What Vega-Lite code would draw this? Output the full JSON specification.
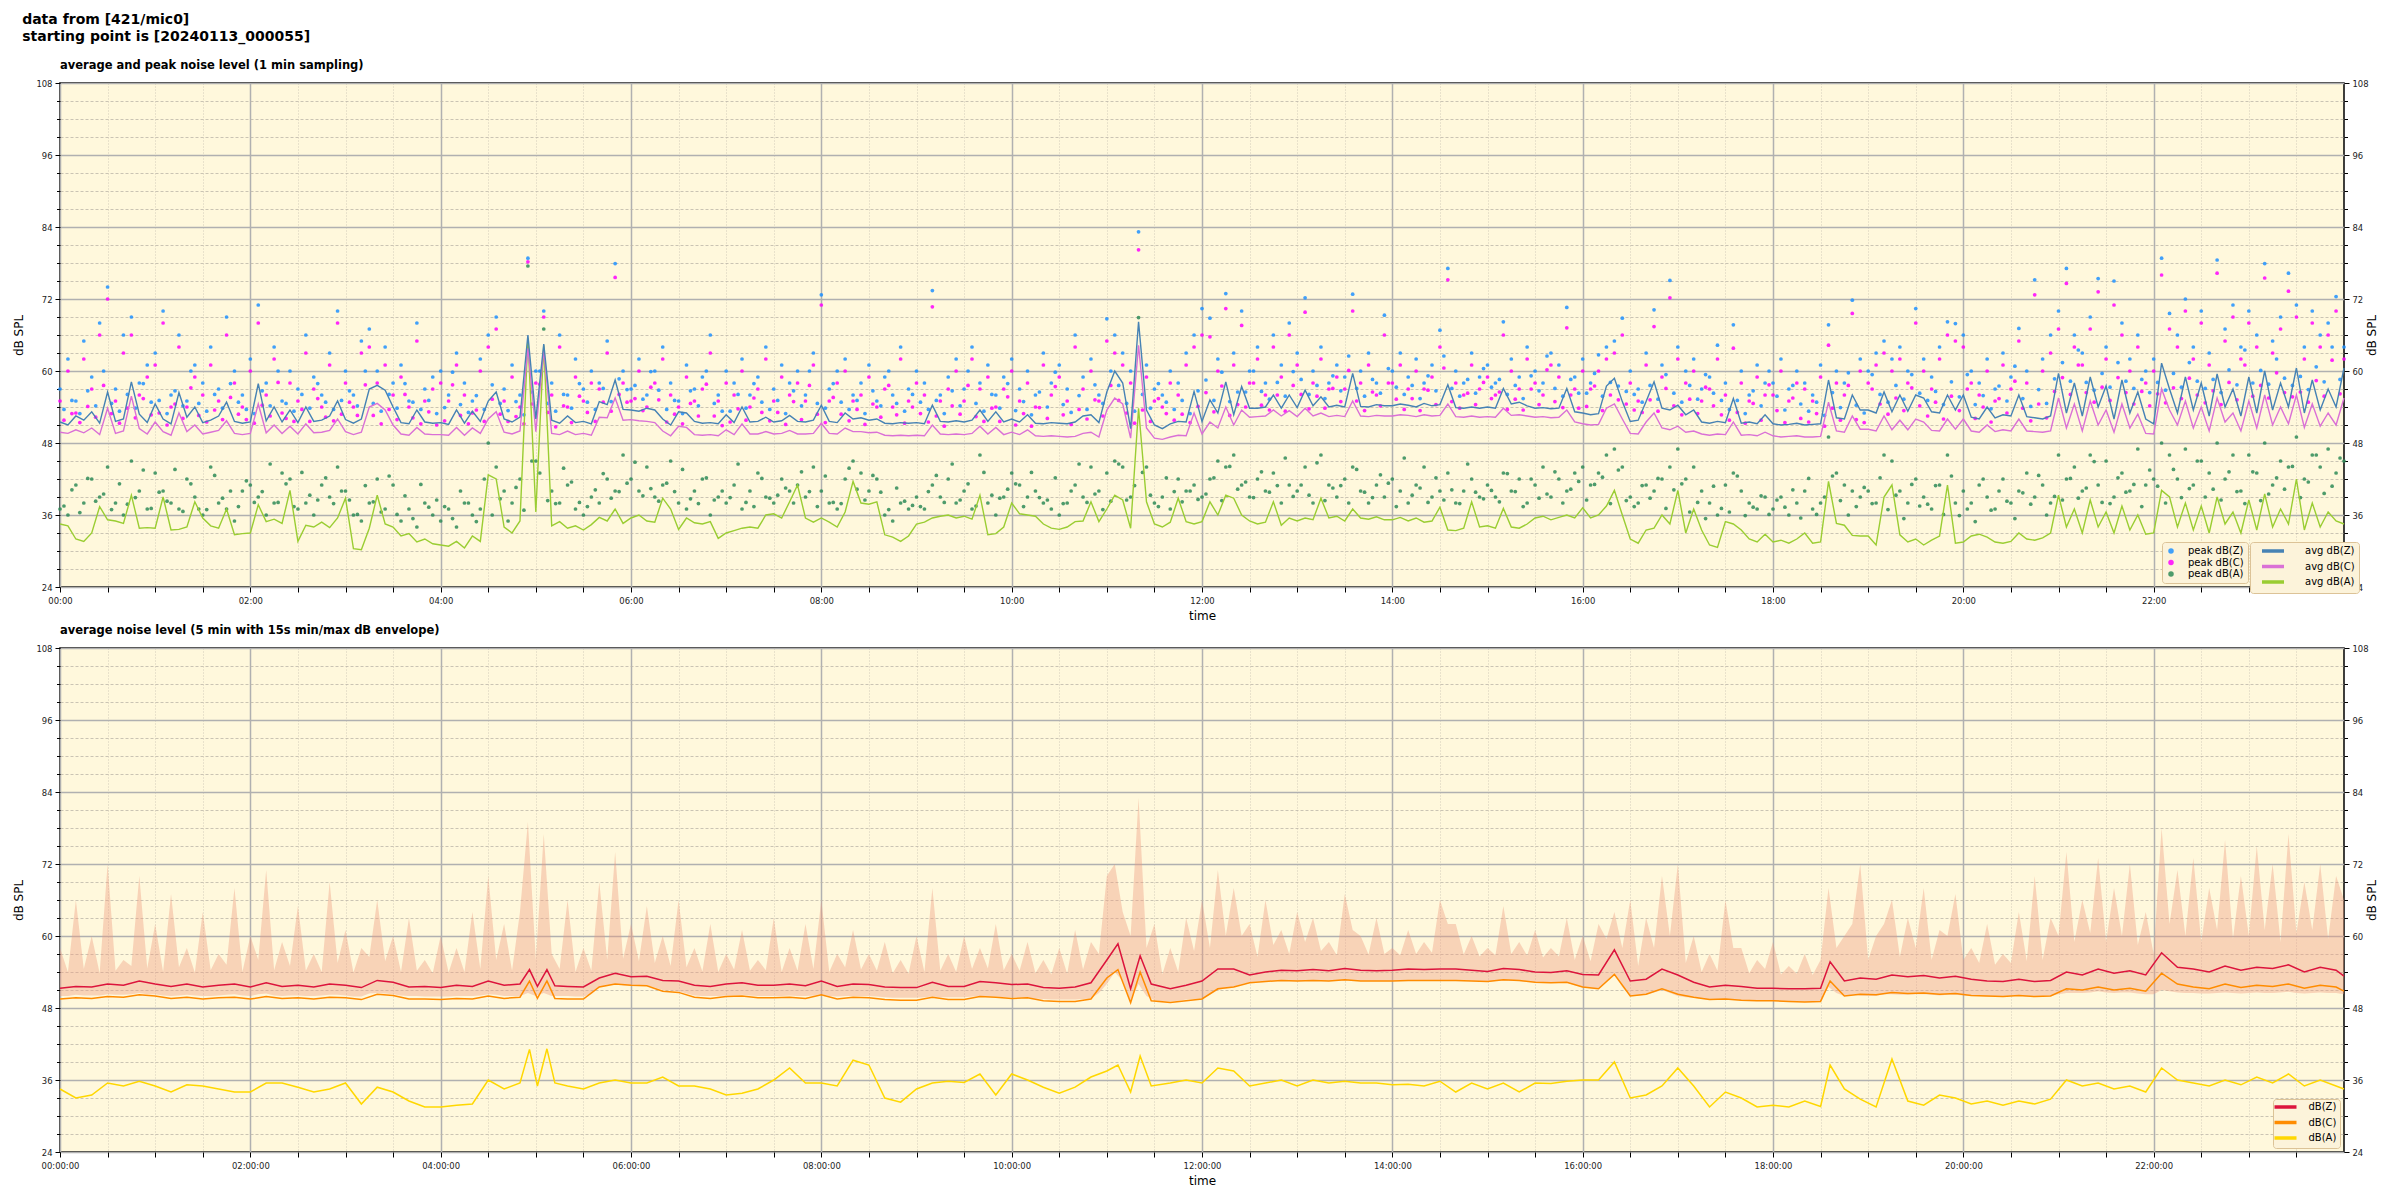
{
"$schema":"https://vega.github.io/schema/vega-lite/v6.json",
"background":"white",
"padding":{"left":12,"top":12,"right":0,"bottom":0},
"title":{"text":["data from [421/mic0]","starting point is [20240113_000055]"],"anchor":"start","frame":"bounds","font":"DejaVu Sans","fontSize":14,"fontWeight":"bold","lineHeight":17,"offset":15,"dx":10},
"datasets":{
"top":[
{"t":0,"aZ":51.5,"aC":49.8,"aA":34.5,"pZ":57,"pC":55,"pA":37},
{"t":5,"aZ":51.0,"aC":49.6,"aA":34.2,"pZ":62,"pC":60,"pA":36},
{"t":10,"aZ":52.5,"aC":50.2,"aA":32.0,"pZ":55,"pC":53,"pA":41},
{"t":15,"aZ":51.8,"aC":49.7,"aA":31.6,"pZ":65,"pC":62,"pA":38},
{"t":20,"aZ":53.2,"aC":50.5,"aA":33.0,"pZ":59,"pC":57,"pA":42},
{"t":25,"aZ":51.3,"aC":49.4,"aA":37.4,"pZ":68,"pC":66,"pA":39},
{"t":30,"aZ":56.5,"aC":53.8,"aA":35.2,"pZ":74,"pC":72,"pA":44},
{"t":35,"aZ":51.6,"aC":49.6,"aA":35.0,"pZ":57,"pC":55,"pA":38},
{"t":40,"aZ":52.0,"aC":50.0,"aA":34.6,"pZ":66,"pC":63,"pA":36},
{"t":45,"aZ":58.2,"aC":55.8,"aA":39.3,"pZ":69,"pC":66,"pA":45},
{"t":50,"aZ":52.8,"aC":50.4,"aA":33.8,"pZ":58,"pC":56,"pA":40},
{"t":55,"aZ":51.4,"aC":49.5,"aA":33.9,"pZ":61,"pC":59,"pA":37},
{"t":60,"aZ":54.5,"aC":51.5,"aA":33.8,"pZ":63,"pC":61,"pA":43},
{"t":65,"aZ":52.0,"aC":49.9,"aA":39.0,"pZ":70,"pC":68,"pA":40},
{"t":70,"aZ":51.2,"aC":49.3,"aA":33.5,"pZ":56,"pC":54,"pA":38},
{"t":75,"aZ":56.4,"aC":53.0,"aA":33.6,"pZ":66,"pC":64,"pA":37},
{"t":80,"aZ":52.3,"aC":49.9,"aA":34.0,"pZ":55,"pC":54,"pA":42},
{"t":85,"aZ":54.0,"aC":51.0,"aA":38.2,"pZ":61,"pC":59,"pA":39},
{"t":90,"aZ":51.4,"aC":49.5,"aA":35.5,"pZ":58,"pC":56,"pA":36},
{"t":95,"aZ":51.8,"aC":49.8,"aA":34.2,"pZ":64,"pC":61,"pA":44},
{"t":100,"aZ":52.5,"aC":50.1,"aA":33.8,"pZ":57,"pC":55,"pA":38},
{"t":105,"aZ":54.8,"aC":51.7,"aA":37.0,"pZ":69,"pC":66,"pA":37},
{"t":110,"aZ":51.6,"aC":49.6,"aA":32.7,"pZ":60,"pC":58,"pA":35},
{"t":115,"aZ":51.3,"aC":49.4,"aA":32.9,"pZ":56,"pC":54,"pA":40},
{"t":120,"aZ":51.5,"aC":49.6,"aA":33.0,"pZ":62,"pC":60,"pA":41},
{"t":125,"aZ":57.9,"aC":54.5,"aA":37.7,"pZ":71,"pC":68,"pA":39},
{"t":130,"aZ":51.7,"aC":49.7,"aA":34.9,"pZ":58,"pC":56,"pA":36},
{"t":135,"aZ":54.0,"aC":51.0,"aA":35.3,"pZ":64,"pC":62,"pA":38},
{"t":140,"aZ":51.5,"aC":49.6,"aA":34.6,"pZ":55,"pC":53,"pA":43},
{"t":145,"aZ":53.5,"aC":50.8,"aA":40.1,"pZ":60,"pC":58,"pA":42},
{"t":150,"aZ":51.4,"aC":49.5,"aA":31.6,"pZ":57,"pC":55,"pA":37},
{"t":155,"aZ":54.0,"aC":51.2,"aA":34.3,"pZ":66,"pC":63,"pA":38},
{"t":160,"aZ":51.6,"aC":49.7,"aA":34.0,"pZ":59,"pC":57,"pA":36},
{"t":165,"aZ":51.8,"aC":49.8,"aA":34.8,"pZ":56,"pC":54,"pA":41},
{"t":170,"aZ":52.5,"aC":50.1,"aA":33.9,"pZ":63,"pC":61,"pA":39},
{"t":175,"aZ":55.0,"aC":52.0,"aA":35.5,"pZ":70,"pC":68,"pA":44},
{"t":180,"aZ":51.9,"aC":49.9,"aA":38.8,"pZ":60,"pC":58,"pA":40},
{"t":185,"aZ":51.3,"aC":49.4,"aA":30.4,"pZ":56,"pC":54,"pA":36},
{"t":190,"aZ":52.0,"aC":49.8,"aA":30.2,"pZ":65,"pC":63,"pA":35},
{"t":195,"aZ":57.0,"aC":54.0,"aA":33.8,"pZ":67,"pC":64,"pA":38},
{"t":200,"aZ":57.6,"aC":54.6,"aA":39.3,"pZ":60,"pC":58,"pA":42},
{"t":205,"aZ":56.8,"aC":53.5,"aA":34.5,"pZ":64,"pC":61,"pA":37},
{"t":210,"aZ":54.0,"aC":51.0,"aA":34.0,"pZ":58,"pC":56,"pA":41},
{"t":215,"aZ":51.4,"aC":49.5,"aA":32.5,"pZ":61,"pC":59,"pA":35},
{"t":220,"aZ":51.2,"aC":49.3,"aA":32.9,"pZ":55,"pC":54,"pA":37},
{"t":225,"aZ":53.5,"aC":50.6,"aA":31.5,"pZ":68,"pC":65,"pA":34},
{"t":230,"aZ":51.5,"aC":49.5,"aA":32.0,"pZ":57,"pC":55,"pA":38},
{"t":235,"aZ":51.3,"aC":49.4,"aA":31.2,"pZ":59,"pC":57,"pA":36},
{"t":240,"aZ":51.4,"aC":49.4,"aA":31.0,"pZ":60,"pC":58,"pA":35},
{"t":245,"aZ":51.1,"aC":49.3,"aA":30.8,"pZ":56,"pC":55,"pA":37},
{"t":250,"aZ":53.5,"aC":50.6,"aA":31.6,"pZ":63,"pC":61,"pA":34},
{"t":255,"aZ":51.3,"aC":49.3,"aA":30.5,"pZ":58,"pC":56,"pA":38},
{"t":260,"aZ":53.3,"aC":50.5,"aA":32.5,"pZ":55,"pC":53,"pA":36},
{"t":265,"aZ":51.6,"aC":49.6,"aA":31.6,"pZ":62,"pC":60,"pA":37},
{"t":270,"aZ":55.0,"aC":52.0,"aA":42.7,"pZ":66,"pC":64,"pA":48},
{"t":275,"aZ":56.5,"aC":53.2,"aA":42.0,"pZ":69,"pC":67,"pA":44},
{"t":280,"aZ":52.0,"aC":49.8,"aA":34.0,"pZ":57,"pC":55,"pA":40},
{"t":285,"aZ":51.5,"aC":49.5,"aA":33.0,"pZ":61,"pC":59,"pA":38},
{"t":290,"aZ":52.3,"aC":50.0,"aA":35.0,"pZ":56,"pC":54,"pA":42},
{"t":295,"aZ":66.0,"aC":63.8,"aA":65.5,"pZ":78.8,"pC":78.2,"pA":77.5},
{"t":300,"aZ":52.0,"aC":49.9,"aA":36.5,"pZ":60,"pC":58,"pA":45},
{"t":305,"aZ":64.5,"aC":63.5,"aA":64.3,"pZ":70,"pC":69,"pA":67},
{"t":310,"aZ":51.8,"aC":49.6,"aA":34.2,"pZ":58,"pC":56,"pA":40},
{"t":315,"aZ":51.3,"aC":49.4,"aA":34.9,"pZ":66,"pC":64,"pA":38},
{"t":320,"aZ":52.5,"aC":50.0,"aA":33.8,"pZ":56,"pC":54,"pA":41},
{"t":325,"aZ":51.4,"aC":49.4,"aA":34.2,"pZ":62,"pC":59,"pA":37},
{"t":330,"aZ":51.6,"aC":49.6,"aA":33.5,"pZ":57,"pC":55,"pA":36},
{"t":335,"aZ":51.2,"aC":49.3,"aA":34.4,"pZ":60,"pC":58,"pA":39},
{"t":340,"aZ":54.9,"aC":52.3,"aA":35.6,"pZ":58,"pC":57,"pA":38},
{"t":345,"aZ":54.4,"aC":52.2,"aA":35.0,"pZ":65,"pC":63,"pA":42},
{"t":350,"aZ":58.5,"aC":55.5,"aA":37.0,"pZ":77.9,"pC":75.6,"pA":40},
{"t":355,"aZ":53.6,"aC":51.8,"aA":34.6,"pZ":60,"pC":58,"pA":46},
{"t":360,"aZ":53.5,"aC":51.9,"aA":35.5,"pZ":57,"pC":55,"pA":42},
{"t":365,"aZ":53.3,"aC":51.7,"aA":36.0,"pZ":62,"pC":60,"pA":40},
{"t":370,"aZ":53.8,"aC":51.6,"aA":35.0,"pZ":56,"pC":54,"pA":44},
{"t":375,"aZ":53.5,"aC":51.4,"aA":34.8,"pZ":60,"pC":58,"pA":39},
{"t":380,"aZ":52.0,"aC":50.0,"aA":38.8,"pZ":64,"pC":62,"pA":41},
{"t":385,"aZ":51.0,"aC":49.2,"aA":37.0,"pZ":58,"pC":56,"pA":45},
{"t":390,"aZ":53.2,"aC":50.8,"aA":33.6,"pZ":55,"pC":54,"pA":38},
{"t":395,"aZ":53.0,"aC":50.6,"aA":35.5,"pZ":61,"pC":59,"pA":37},
{"t":400,"aZ":51.6,"aC":49.4,"aA":34.7,"pZ":57,"pC":55,"pA":40},
{"t":405,"aZ":51.3,"aC":49.3,"aA":34.5,"pZ":59,"pC":57,"pA":42},
{"t":410,"aZ":51.4,"aC":49.4,"aA":34.9,"pZ":66,"pC":63,"pA":36},
{"t":415,"aZ":51.2,"aC":49.2,"aA":32.1,"pZ":56,"pC":55,"pA":39},
{"t":420,"aZ":52.7,"aC":50.2,"aA":33.0,"pZ":60,"pC":58,"pA":38},
{"t":425,"aZ":51.4,"aC":49.4,"aA":33.4,"pZ":58,"pC":56,"pA":41},
{"t":430,"aZ":54.0,"aC":51.2,"aA":33.8,"pZ":62,"pC":60,"pA":37},
{"t":435,"aZ":51.5,"aC":49.5,"aA":34.0,"pZ":56,"pC":54,"pA":40},
{"t":440,"aZ":51.6,"aC":49.5,"aA":33.8,"pZ":59,"pC":57,"pA":43},
{"t":445,"aZ":52.3,"aC":49.9,"aA":36.0,"pZ":64,"pC":62,"pA":39},
{"t":450,"aZ":51.5,"aC":49.5,"aA":36.2,"pZ":57,"pC":55,"pA":38},
{"t":455,"aZ":51.7,"aC":49.6,"aA":35.5,"pZ":61,"pC":59,"pA":42},
{"t":460,"aZ":52.6,"aC":50.1,"aA":38.2,"pZ":58,"pC":56,"pA":40},
{"t":465,"aZ":51.6,"aC":49.5,"aA":41.0,"pZ":60,"pC":58,"pA":41},
{"t":470,"aZ":51.5,"aC":49.5,"aA":35.5,"pZ":56,"pC":55,"pA":39},
{"t":475,"aZ":51.8,"aC":49.6,"aA":34.8,"pZ":63,"pC":61,"pA":44},
{"t":480,"aZ":54.3,"aC":51.3,"aA":35.5,"pZ":72.7,"pC":71,"pA":40},
{"t":485,"aZ":51.6,"aC":49.6,"aA":34.8,"pZ":57,"pC":55,"pA":38},
{"t":490,"aZ":51.4,"aC":49.5,"aA":34.0,"pZ":60,"pC":58,"pA":37},
{"t":495,"aZ":53.0,"aC":50.5,"aA":36.5,"pZ":62,"pC":60,"pA":42},
{"t":500,"aZ":52.0,"aC":49.9,"aA":41.6,"pZ":56,"pC":55,"pA":45},
{"t":505,"aZ":52.2,"aC":49.9,"aA":38.0,"pZ":58,"pC":56,"pA":43},
{"t":510,"aZ":51.8,"aC":49.7,"aA":37.8,"pZ":61,"pC":59,"pA":40},
{"t":515,"aZ":52.0,"aC":49.8,"aA":38.2,"pZ":55,"pC":54,"pA":42},
{"t":520,"aZ":51.3,"aC":49.3,"aA":32.7,"pZ":59,"pC":57,"pA":36},
{"t":525,"aZ":51.2,"aC":49.2,"aA":32.3,"pZ":56,"pC":54,"pA":35},
{"t":530,"aZ":51.4,"aC":49.3,"aA":31.6,"pZ":64,"pC":62,"pA":38},
{"t":535,"aZ":51.3,"aC":49.2,"aA":32.5,"pZ":57,"pC":55,"pA":37},
{"t":540,"aZ":51.4,"aC":49.3,"aA":34.5,"pZ":60,"pC":58,"pA":39},
{"t":545,"aZ":51.2,"aC":49.2,"aA":34.8,"pZ":58,"pC":56,"pA":37},
{"t":550,"aZ":54.3,"aC":51.0,"aA":35.5,"pZ":73.4,"pC":70.7,"pA":41},
{"t":555,"aZ":51.6,"aC":49.5,"aA":35.8,"pZ":56,"pC":55,"pA":39},
{"t":560,"aZ":51.5,"aC":49.4,"aA":36.0,"pZ":59,"pC":57,"pA":42},
{"t":565,"aZ":51.7,"aC":49.5,"aA":35.5,"pZ":62,"pC":60,"pA":38},
{"t":570,"aZ":51.5,"aC":49.4,"aA":35.8,"pZ":57,"pC":55,"pA":40},
{"t":575,"aZ":51.8,"aC":49.6,"aA":35.3,"pZ":64,"pC":62,"pA":37},
{"t":580,"aZ":53.5,"aC":50.8,"aA":39.3,"pZ":58,"pC":57,"pA":46},
{"t":585,"aZ":51.6,"aC":49.5,"aA":32.7,"pZ":61,"pC":59,"pA":38},
{"t":590,"aZ":53.2,"aC":50.6,"aA":32.9,"pZ":56,"pC":54,"pA":36},
{"t":595,"aZ":51.5,"aC":49.4,"aA":34.0,"pZ":59,"pC":57,"pA":39},
{"t":600,"aZ":52.0,"aC":49.8,"aA":38.0,"pZ":62,"pC":60,"pA":43},
{"t":605,"aZ":51.5,"aC":49.4,"aA":36.2,"pZ":57,"pC":55,"pA":41},
{"t":610,"aZ":52.7,"aC":50.2,"aA":36.0,"pZ":60,"pC":58,"pA":39},
{"t":615,"aZ":51.3,"aC":49.2,"aA":35.8,"pZ":56,"pC":54,"pA":40},
{"t":620,"aZ":51.2,"aC":49.1,"aA":34.5,"pZ":63,"pC":61,"pA":38},
{"t":625,"aZ":51.4,"aC":49.2,"aA":33.8,"pZ":58,"pC":56,"pA":37},
{"t":630,"aZ":51.3,"aC":49.1,"aA":33.6,"pZ":61,"pC":59,"pA":36},
{"t":635,"aZ":51.2,"aC":49.0,"aA":34.0,"pZ":57,"pC":55,"pA":38},
{"t":640,"aZ":51.5,"aC":49.1,"aA":34.9,"pZ":66,"pC":64,"pA":41},
{"t":645,"aZ":52.5,"aC":49.6,"aA":35.0,"pZ":59,"pC":57,"pA":39},
{"t":650,"aZ":52.7,"aC":49.8,"aA":38.2,"pZ":62,"pC":60,"pA":44},
{"t":655,"aZ":51.4,"aC":49.0,"aA":34.9,"pZ":56,"pC":55,"pA":40},
{"t":660,"aZ":56.5,"aC":53.5,"aA":37.0,"pZ":68.7,"pC":65,"pA":43},
{"t":665,"aZ":60.0,"aC":55.5,"aA":39.3,"pZ":66,"pC":63,"pA":45},
{"t":670,"aZ":58.0,"aC":54.5,"aA":38.5,"pZ":63,"pC":61,"pA":44},
{"t":675,"aZ":50.4,"aC":48.8,"aA":33.8,"pZ":60,"pC":58,"pA":39},
{"t":680,"aZ":68.2,"aC":64.3,"aA":53.8,"pZ":83.2,"pC":80.2,"pA":68.9},
{"t":685,"aZ":53.5,"aC":50.5,"aA":38.2,"pZ":61,"pC":59,"pA":44},
{"t":690,"aZ":51.0,"aC":48.8,"aA":34.5,"pZ":57,"pC":55,"pA":38},
{"t":695,"aZ":50.4,"aC":48.6,"aA":34.0,"pZ":56,"pC":54,"pA":39},
{"t":700,"aZ":51.2,"aC":49.0,"aA":34.8,"pZ":60,"pC":58,"pA":37},
{"t":705,"aZ":51.6,"aC":49.3,"aA":38.8,"pZ":58,"pC":56,"pA":42},
{"t":710,"aZ":51.5,"aC":49.2,"aA":34.9,"pZ":63,"pC":61,"pA":40},
{"t":715,"aZ":56.6,"aC":53.0,"aA":34.5,"pZ":66,"pC":64,"pA":41},
{"t":720,"aZ":51.6,"aC":49.5,"aA":34.9,"pZ":70.4,"pC":66,"pA":39},
{"t":725,"aZ":55.2,"aC":51.5,"aA":38.2,"pZ":68.8,"pC":65.7,"pA":42},
{"t":730,"aZ":53.0,"aC":50.5,"aA":36.0,"pZ":62,"pC":60,"pA":45},
{"t":735,"aZ":58.2,"aC":54.0,"aA":39.3,"pZ":72.9,"pC":70.4,"pA":44},
{"t":740,"aZ":52.7,"aC":51.0,"aA":38.8,"pZ":63,"pC":61,"pA":46},
{"t":745,"aZ":57.4,"aC":53.5,"aA":36.0,"pZ":70,"pC":67.6,"pA":41},
{"t":750,"aZ":53.8,"aC":52.3,"aA":35.0,"pZ":60,"pC":58,"pA":39},
{"t":755,"aZ":53.8,"aC":52.4,"aA":34.5,"pZ":64,"pC":62,"pA":42},
{"t":760,"aZ":54.0,"aC":52.5,"aA":34.8,"pZ":58,"pC":56,"pA":40},
{"t":765,"aZ":56.0,"aC":53.5,"aA":38.2,"pZ":66,"pC":64,"pA":43},
{"t":770,"aZ":53.8,"aC":52.5,"aA":34.3,"pZ":61,"pC":59,"pA":38},
{"t":775,"aZ":56.0,"aC":53.4,"aA":35.5,"pZ":68,"pC":66,"pA":41},
{"t":780,"aZ":53.9,"aC":52.4,"aA":35.0,"pZ":63,"pC":61,"pA":40},
{"t":785,"aZ":56.8,"aC":53.8,"aA":35.5,"pZ":72.2,"pC":69.8,"pA":44},
{"t":790,"aZ":54.2,"aC":52.5,"aA":35.2,"pZ":60,"pC":58,"pA":38},
{"t":795,"aZ":55.7,"aC":53.0,"aA":38.8,"pZ":64,"pC":62,"pA":46},
{"t":800,"aZ":54.0,"aC":52.4,"aA":35.5,"pZ":58,"pC":57,"pA":41},
{"t":805,"aZ":54.3,"aC":52.6,"aA":35.8,"pZ":61,"pC":59,"pA":39},
{"t":810,"aZ":54.0,"aC":52.4,"aA":35.0,"pZ":59,"pC":57,"pA":42},
{"t":815,"aZ":59.6,"aC":55.0,"aA":37.0,"pZ":72.8,"pC":70,"pA":44},
{"t":820,"aZ":54.1,"aC":52.5,"aA":35.5,"pZ":60,"pC":58,"pA":40},
{"t":825,"aZ":54.0,"aC":52.4,"aA":35.3,"pZ":63,"pC":61,"pA":38},
{"t":830,"aZ":54.4,"aC":52.6,"aA":35.7,"pZ":58,"pC":56,"pA":41},
{"t":835,"aZ":54.2,"aC":52.5,"aA":35.2,"pZ":69.3,"pC":66,"pA":39},
{"t":840,"aZ":54.2,"aC":52.5,"aA":35.2,"pZ":60,"pC":58,"pA":42},
{"t":845,"aZ":54.5,"aC":52.7,"aA":35.6,"pZ":63,"pC":61,"pA":40},
{"t":850,"aZ":54.3,"aC":52.6,"aA":35.0,"pZ":59,"pC":57,"pA":38},
{"t":855,"aZ":54.0,"aC":52.4,"aA":35.5,"pZ":62,"pC":60,"pA":41},
{"t":860,"aZ":54.6,"aC":52.7,"aA":34.8,"pZ":58,"pC":57,"pA":44},
{"t":865,"aZ":54.2,"aC":52.5,"aA":35.0,"pZ":61,"pC":59,"pA":39},
{"t":870,"aZ":54.4,"aC":52.6,"aA":37.3,"pZ":66.8,"pC":64,"pA":40},
{"t":875,"aZ":57.7,"aC":54.5,"aA":33.5,"pZ":77.1,"pC":75.2,"pA":43},
{"t":880,"aZ":53.9,"aC":52.4,"aA":33.4,"pZ":60,"pC":58,"pA":38},
{"t":885,"aZ":53.8,"aC":52.3,"aA":33.8,"pZ":58,"pC":56,"pA":40},
{"t":890,"aZ":54.0,"aC":52.5,"aA":38.2,"pZ":63,"pC":61,"pA":42},
{"t":895,"aZ":53.8,"aC":52.3,"aA":34.0,"pZ":59,"pC":57,"pA":39},
{"t":900,"aZ":54.0,"aC":52.4,"aA":34.2,"pZ":61,"pC":59,"pA":41},
{"t":905,"aZ":53.8,"aC":52.3,"aA":33.8,"pZ":58,"pC":56,"pA":39},
{"t":910,"aZ":57.1,"aC":53.8,"aA":37.1,"pZ":68.2,"pC":66,"pA":43},
{"t":915,"aZ":54.5,"aC":52.6,"aA":34.0,"pZ":62,"pC":60,"pA":40},
{"t":920,"aZ":54.8,"aC":52.7,"aA":33.8,"pZ":59,"pC":57,"pA":42},
{"t":925,"aZ":54.2,"aC":52.5,"aA":34.5,"pZ":64,"pC":62,"pA":38},
{"t":930,"aZ":53.8,"aC":52.3,"aA":35.5,"pZ":60,"pC":58,"pA":41},
{"t":935,"aZ":53.9,"aC":52.4,"aA":35.8,"pZ":58,"pC":56,"pA":44},
{"t":940,"aZ":53.7,"aC":52.2,"aA":35.2,"pZ":63,"pC":61,"pA":39},
{"t":945,"aZ":53.8,"aC":52.3,"aA":35.6,"pZ":61,"pC":59,"pA":42},
{"t":950,"aZ":57.1,"aC":53.5,"aA":36.0,"pZ":70.6,"pC":67.2,"pA":40},
{"t":955,"aZ":53.2,"aC":51.5,"aA":35.5,"pZ":59,"pC":57,"pA":43},
{"t":960,"aZ":53.0,"aC":51.2,"aA":37.2,"pZ":62,"pC":60,"pA":44},
{"t":965,"aZ":52.7,"aC":51.0,"aA":35.5,"pZ":58,"pC":57,"pA":41},
{"t":970,"aZ":52.9,"aC":51.1,"aA":36.0,"pZ":62.7,"pC":60,"pA":43},
{"t":975,"aZ":57.5,"aC":53.8,"aA":37.5,"pZ":64,"pC":62,"pA":46},
{"t":980,"aZ":58.8,"aC":54.5,"aA":40.1,"pZ":65,"pC":63,"pA":47},
{"t":985,"aZ":54.9,"aC":52.0,"aA":36.0,"pZ":68.8,"pC":66,"pA":44},
{"t":990,"aZ":51.6,"aC":49.6,"aA":32.0,"pZ":60,"pC":58,"pA":39},
{"t":995,"aZ":51.8,"aC":49.5,"aA":31.3,"pZ":57,"pC":55,"pA":38},
{"t":1000,"aZ":54.9,"aC":51.5,"aA":33.5,"pZ":63,"pC":61,"pA":41},
{"t":1005,"aZ":58.2,"aC":53.0,"aA":33.8,"pZ":70.2,"pC":67.4,"pA":40},
{"t":1010,"aZ":53.8,"aC":50.5,"aA":36.0,"pZ":61,"pC":59,"pA":42},
{"t":1015,"aZ":53.5,"aC":50.2,"aA":34.5,"pZ":75.1,"pC":72.2,"pA":44},
{"t":1020,"aZ":54.3,"aC":50.8,"aA":40.1,"pZ":64,"pC":62,"pA":47},
{"t":1025,"aZ":52.7,"aC":49.8,"aA":33.0,"pZ":60,"pC":58,"pA":42},
{"t":1030,"aZ":53.5,"aC":50.0,"aA":37.0,"pZ":62,"pC":60,"pA":44},
{"t":1035,"aZ":51.5,"aC":49.5,"aA":33.5,"pZ":57,"pC":55,"pA":40},
{"t":1040,"aZ":51.3,"aC":49.3,"aA":31.0,"pZ":59,"pC":57,"pA":38},
{"t":1045,"aZ":51.6,"aC":49.5,"aA":30.6,"pZ":64.3,"pC":62,"pA":36},
{"t":1050,"aZ":51.4,"aC":49.4,"aA":34.9,"pZ":58,"pC":56,"pA":41},
{"t":1055,"aZ":55.4,"aC":51.5,"aA":34.5,"pZ":67.7,"pC":63.8,"pA":43},
{"t":1060,"aZ":51.3,"aC":49.3,"aA":33.5,"pZ":60,"pC":58,"pA":40},
{"t":1065,"aZ":51.5,"aC":49.4,"aA":32.0,"pZ":56,"pC":55,"pA":38},
{"t":1070,"aZ":51.2,"aC":49.2,"aA":31.5,"pZ":61,"pC":59,"pA":37},
{"t":1075,"aZ":52.7,"aC":49.8,"aA":32.8,"pZ":58,"pC":56,"pA":39},
{"t":1080,"aZ":51.2,"aC":49.2,"aA":31.5,"pZ":58,"pC":56,"pA":37},
{"t":1085,"aZ":51.0,"aC":49.0,"aA":31.8,"pZ":62,"pC":60,"pA":39},
{"t":1090,"aZ":51.1,"aC":49.1,"aA":31.3,"pZ":57,"pC":55,"pA":36},
{"t":1095,"aZ":51.3,"aC":49.2,"aA":32.0,"pZ":60,"pC":58,"pA":38},
{"t":1100,"aZ":51.0,"aC":49.0,"aA":33.0,"pZ":58,"pC":57,"pA":40},
{"t":1105,"aZ":51.1,"aC":49.0,"aA":31.3,"pZ":56,"pC":55,"pA":37},
{"t":1110,"aZ":51.2,"aC":49.1,"aA":31.5,"pZ":61,"pC":59,"pA":38},
{"t":1115,"aZ":58.5,"aC":54.8,"aA":41.6,"pZ":67.7,"pC":64.3,"pA":49},
{"t":1120,"aZ":52.2,"aC":50.0,"aA":34.6,"pZ":60,"pC":58,"pA":43},
{"t":1125,"aZ":52.0,"aC":49.8,"aA":34.3,"pZ":58,"pC":56,"pA":41},
{"t":1130,"aZ":56.0,"aC":52.5,"aA":32.6,"pZ":71.8,"pC":69.6,"pA":40},
{"t":1135,"aZ":53.5,"aC":50.3,"aA":32.5,"pZ":62,"pC":60,"pA":39},
{"t":1140,"aZ":53.5,"aC":50.3,"aA":32.5,"pZ":60,"pC":58,"pA":40},
{"t":1145,"aZ":53.0,"aC":50.0,"aA":31.0,"pZ":63,"pC":61,"pA":38},
{"t":1150,"aZ":56.5,"aC":52.5,"aA":39.0,"pZ":65,"pC":63,"pA":46},
{"t":1155,"aZ":53.2,"aC":50.2,"aA":41.0,"pZ":62,"pC":60,"pA":45},
{"t":1160,"aZ":56.0,"aC":51.8,"aA":32.7,"pZ":64,"pC":62,"pA":40},
{"t":1165,"aZ":53.3,"aC":50.2,"aA":31.5,"pZ":60,"pC":58,"pA":38},
{"t":1170,"aZ":56.0,"aC":52.0,"aA":32.0,"pZ":70.4,"pC":68,"pA":42},
{"t":1175,"aZ":55.5,"aC":51.5,"aA":31.0,"pZ":62,"pC":60,"pA":39},
{"t":1180,"aZ":53.2,"aC":50.1,"aA":31.8,"pZ":59,"pC":57,"pA":37},
{"t":1185,"aZ":53.0,"aC":50.0,"aA":32.5,"pZ":64,"pC":62,"pA":41},
{"t":1190,"aZ":56.0,"aC":52.0,"aA":41.0,"pZ":68.2,"pC":66,"pA":46},
{"t":1195,"aZ":53.5,"aC":50.3,"aA":31.3,"pZ":67.9,"pC":65,"pA":38},
{"t":1200,"aZ":56.0,"aC":52.0,"aA":31.5,"pZ":66,"pC":64,"pA":40},
{"t":1205,"aZ":52.3,"aC":50.0,"aA":32.5,"pZ":60,"pC":58,"pA":38},
{"t":1210,"aZ":52.0,"aC":49.8,"aA":32.8,"pZ":58,"pC":56,"pA":41},
{"t":1215,"aZ":54.0,"aC":51.0,"aA":32.3,"pZ":62,"pC":60,"pA":39},
{"t":1220,"aZ":52.2,"aC":49.9,"aA":31.5,"pZ":57,"pC":55,"pA":37},
{"t":1225,"aZ":52.7,"aC":50.2,"aA":31.3,"pZ":63,"pC":61,"pA":42},
{"t":1230,"aZ":52.5,"aC":50.0,"aA":31.6,"pZ":59,"pC":57,"pA":38},
{"t":1235,"aZ":56.0,"aC":52.0,"aA":33.0,"pZ":67.1,"pC":65,"pA":40},
{"t":1240,"aZ":52.4,"aC":50.0,"aA":32.0,"pZ":60,"pC":58,"pA":43},
{"t":1245,"aZ":52.2,"aC":49.9,"aA":31.8,"pZ":75.2,"pC":72.7,"pA":39},
{"t":1250,"aZ":52.0,"aC":49.8,"aA":32.2,"pZ":62,"pC":60,"pA":41},
{"t":1255,"aZ":52.5,"aC":50.0,"aA":33.0,"pZ":66,"pC":63,"pA":38},
{"t":1260,"aZ":59.6,"aC":55.5,"aA":39.3,"pZ":70,"pC":67,"pA":46},
{"t":1265,"aZ":53.0,"aC":50.5,"aA":34.0,"pZ":77.1,"pC":74.6,"pA":42},
{"t":1270,"aZ":58.0,"aC":54.5,"aA":37.0,"pZ":66,"pC":64,"pA":44},
{"t":1275,"aZ":52.5,"aC":50.0,"aA":33.0,"pZ":63,"pC":61,"pA":40},
{"t":1280,"aZ":59.0,"aC":55.0,"aA":38.5,"pZ":69,"pC":67,"pA":46},
{"t":1285,"aZ":54.0,"aC":51.0,"aA":34.0,"pZ":75.4,"pC":73.2,"pA":41},
{"t":1290,"aZ":57.5,"aC":53.5,"aA":36.5,"pZ":64,"pC":62,"pA":45},
{"t":1295,"aZ":52.0,"aC":49.8,"aA":33.0,"pZ":75,"pC":71,"pA":39},
{"t":1300,"aZ":58.5,"aC":54.5,"aA":37.5,"pZ":68,"pC":66,"pA":43},
{"t":1305,"aZ":53.0,"aC":50.5,"aA":33.5,"pZ":62,"pC":60,"pA":40},
{"t":1310,"aZ":56.5,"aC":52.8,"aA":36.0,"pZ":66,"pC":64,"pA":47},
{"t":1315,"aZ":52.0,"aC":49.6,"aA":32.8,"pZ":60,"pC":58,"pA":41},
{"t":1320,"aZ":51.2,"aC":49.5,"aA":33.0,"pZ":62,"pC":60,"pA":42},
{"t":1325,"aZ":61.3,"aC":57.0,"aA":40.1,"pZ":78.8,"pC":76,"pA":48},
{"t":1330,"aZ":57.0,"aC":53.5,"aA":39.0,"pZ":69.6,"pC":67,"pA":46},
{"t":1335,"aZ":53.0,"aC":51.0,"aA":34.0,"pZ":66,"pC":64,"pA":42},
{"t":1340,"aZ":59.0,"aC":55.0,"aA":38.0,"pZ":72,"pC":70,"pA":47},
{"t":1345,"aZ":53.5,"aC":50.5,"aA":33.5,"pZ":64,"pC":62,"pA":41},
{"t":1350,"aZ":58.0,"aC":54.0,"aA":37.5,"pZ":70,"pC":68,"pA":45},
{"t":1355,"aZ":52.5,"aC":50.0,"aA":33.0,"pZ":63,"pC":61,"pA":43},
{"t":1360,"aZ":59.5,"aC":55.5,"aA":39.0,"pZ":78.5,"pC":76.3,"pA":48},
{"t":1365,"aZ":54.0,"aC":51.5,"aA":34.5,"pZ":67,"pC":65,"pA":42},
{"t":1370,"aZ":57.0,"aC":53.0,"aA":36.5,"pZ":71,"pC":69,"pA":46},
{"t":1375,"aZ":52.5,"aC":50.0,"aA":33.0,"pZ":64,"pC":62,"pA":40},
{"t":1380,"aZ":59.0,"aC":55.0,"aA":38.5,"pZ":70,"pC":68,"pA":46},
{"t":1385,"aZ":53.0,"aC":50.5,"aA":33.5,"pZ":66,"pC":64,"pA":43},
{"t":1390,"aZ":60.0,"aC":56.0,"aA":39.5,"pZ":77.9,"pC":75.5,"pA":48},
{"t":1395,"aZ":53.5,"aC":51.0,"aA":34.0,"pZ":65,"pC":63,"pA":41},
{"t":1400,"aZ":58.0,"aC":54.0,"aA":37.0,"pZ":69,"pC":67,"pA":45},
{"t":1405,"aZ":54.0,"aC":51.2,"aA":34.5,"pZ":76.3,"pC":73.3,"pA":44},
{"t":1410,"aZ":60.5,"aC":56.0,"aA":42.0,"pZ":71,"pC":69,"pA":49},
{"t":1415,"aZ":53.0,"aC":50.6,"aA":33.5,"pZ":64,"pC":62,"pA":42},
{"t":1420,"aZ":58.5,"aC":54.5,"aA":38.0,"pZ":70,"pC":68,"pA":46},
{"t":1425,"aZ":53.5,"aC":50.8,"aA":34.0,"pZ":66,"pC":64,"pA":44},
{"t":1430,"aZ":57.0,"aC":53.0,"aA":36.5,"pZ":68,"pC":66,"pA":47},
{"t":1435,"aZ":54.0,"aC":51.0,"aA":35.0,"pZ":72.4,"pC":70,"pA":43},
{"t":1440,"aZ":60.5,"aC":55.5,"aA":34.5,"pZ":64,"pC":62,"pA":45}
],
"pk":[
{"t":2.5,"pZ":53.6,"pC":51.8,"pA":37.5},{"t":7.5,"pZ":55.1,"pC":52.9,"pA":40.2},{"t":12.5,"pZ":52.9,"pC":51.4,"pA":36.4},{"t":17.5,"pZ":56.7,"pC":54.1,"pA":42.1},{"t":22.5,"pZ":54.2,"pC":52.3,"pA":38.3},{"t":27.5,"pZ":60.0,"pC":57.6,"pA":39.5},{"t":32.5,"pZ":54.6,"pC":52.9,"pA":36.9},{"t":37.5,"pZ":53.3,"pC":51.3,"pA":41.2},{"t":42.5,"pZ":56.1,"pC":53.8,"pA":37.8},{"t":47.5,"pZ":53.8,"pC":52.2,"pA":38.9},{"t":52.5,"pZ":57.9,"pC":55.4,"pA":43.5},{"t":57.5,"pZ":54.8,"pC":52.7,"pA":37.1},
{"t":62.5,"pZ":55.1,"pC":53.0,"pA":39.8},{"t":67.5,"pZ":52.9,"pC":51.0,"pA":38.3},{"t":72.5,"pZ":56.7,"pC":54.5,"pA":43.6},{"t":77.5,"pZ":54.2,"pC":52.1,"pA":36.6},{"t":82.5,"pZ":60.0,"pC":57.2,"pA":41.2},{"t":87.5,"pZ":54.6,"pC":52.6,"pA":37.0},{"t":92.5,"pZ":53.3,"pC":51.5,"pA":36.9},{"t":97.5,"pZ":56.1,"pC":53.5,"pA":42.6},{"t":102.5,"pZ":53.8,"pC":51.9,"pA":38.8},{"t":107.5,"pZ":57.9,"pC":55.6,"pA":40.0},{"t":112.5,"pZ":54.8,"pC":52.8,"pA":37.4},{"t":117.5,"pZ":53.6,"pC":51.9,"pA":41.7},
{"t":122.5,"pZ":52.9,"pC":51.3,"pA":38.1},{"t":127.5,"pZ":56.7,"pC":54.3,"pA":39.9},{"t":132.5,"pZ":54.2,"pC":52.5,"pA":44.5},{"t":137.5,"pZ":60.0,"pC":58.1,"pA":38.1},{"t":142.5,"pZ":54.6,"pC":52.1,"pA":41.2},{"t":147.5,"pZ":53.3,"pC":51.6,"pA":37.4},{"t":152.5,"pZ":56.1,"pC":53.6,"pA":43.1},{"t":157.5,"pZ":53.8,"pC":51.6,"pA":39.3},{"t":162.5,"pZ":57.9,"pC":55.4,"pA":38.5},{"t":167.5,"pZ":54.8,"pC":52.3,"pA":42.2},{"t":172.5,"pZ":53.6,"pC":51.7,"pA":37.9},{"t":177.5,"pZ":55.1,"pC":52.8,"pA":40.0},
{"t":182.5,"pZ":56.7,"pC":54.8,"pA":38.5},{"t":187.5,"pZ":54.2,"pC":52.6,"pA":36.1},{"t":192.5,"pZ":60.0,"pC":57.7,"pA":40.9},{"t":197.5,"pZ":54.6,"pC":52.6,"pA":38.2},{"t":202.5,"pZ":53.3,"pC":51.2,"pA":36.5},{"t":207.5,"pZ":56.1,"pC":53.6,"pA":42.5},{"t":212.5,"pZ":53.8,"pC":51.9,"pA":36.1},{"t":217.5,"pZ":57.9,"pC":56.1,"pA":39.2},{"t":222.5,"pZ":54.8,"pC":52.2,"pA":35.4},{"t":227.5,"pZ":53.6,"pC":51.2,"pA":41.1},{"t":232.5,"pZ":55.1,"pC":53.2,"pA":37.3},{"t":237.5,"pZ":52.9,"pC":51.0,"pA":38.5},
{"t":242.5,"pZ":53.9,"pC":51.7,"pA":37.4},{"t":247.5,"pZ":59.8,"pC":57.7,"pA":35.4},{"t":252.5,"pZ":54.4,"pC":52.6,"pA":40.0},{"t":257.5,"pZ":53.1,"pC":51.2,"pA":38.0},{"t":262.5,"pZ":55.9,"pC":53.5,"pA":34.9},{"t":267.5,"pZ":53.6,"pC":51.6,"pA":42.0},{"t":272.5,"pZ":57.7,"pC":55.3,"pA":36.0},{"t":277.5,"pZ":54.6,"pC":52.8,"pA":38.7},{"t":282.5,"pZ":53.4,"pC":51.6,"pA":35.0},{"t":287.5,"pZ":54.9,"pC":52.4,"pA":40.6},{"t":292.5,"pZ":52.7,"pC":51.2,"pA":36.8},{"t":297.5,"pZ":56.5,"pC":54.5,"pA":45.0},
{"t":302.5,"pZ":60.0,"pC":57.8,"pA":43.0},{"t":307.5,"pZ":54.6,"pC":53.1,"pA":38.4},{"t":312.5,"pZ":53.3,"pC":50.7,"pA":37.9},{"t":317.5,"pZ":56.1,"pC":54.2,"pA":43.8},{"t":322.5,"pZ":53.8,"pC":51.4,"pA":41.5},{"t":327.5,"pZ":57.9,"pC":55.8,"pA":38.1},{"t":332.5,"pZ":54.8,"pC":53.1,"pA":37.4},{"t":337.5,"pZ":53.6,"pC":51.6,"pA":40.2},{"t":342.5,"pZ":57.1,"pC":54.8,"pA":42.9},{"t":347.5,"pZ":54.9,"pC":53.3,"pA":38.8},{"t":352.5,"pZ":58.7,"pC":56.1,"pA":39.9},{"t":357.5,"pZ":56.9,"pC":54.8,"pA":41.3},
{"t":362.5,"pZ":57.6,"pC":55.4,"pA":44.8},{"t":367.5,"pZ":55.3,"pC":53.4,"pA":39.2},{"t":372.5,"pZ":59.9,"pC":57.3,"pA":40.4},{"t":377.5,"pZ":56.8,"pC":55.2,"pA":38.3},{"t":382.5,"pZ":53.6,"pC":51.5,"pA":41.3},{"t":387.5,"pZ":55.1,"pC":52.8,"pA":39.9},{"t":392.5,"pZ":52.9,"pC":51.2,"pA":43.6},{"t":397.5,"pZ":56.7,"pC":54.6,"pA":38.7},{"t":402.5,"pZ":54.2,"pC":52.5,"pA":37.9},{"t":407.5,"pZ":60.0,"pC":57.8,"pA":42.2},{"t":412.5,"pZ":54.6,"pC":52.5,"pA":38.5},{"t":417.5,"pZ":53.3,"pC":50.9,"pA":40.0},
{"t":422.5,"pZ":53.3,"pC":51.5,"pA":38.9},{"t":427.5,"pZ":56.1,"pC":53.7,"pA":44.5},{"t":432.5,"pZ":53.8,"pC":51.8,"pA":38.1},{"t":437.5,"pZ":57.9,"pC":55.5,"pA":37.4},{"t":442.5,"pZ":54.8,"pC":53.1,"pA":42.1},{"t":447.5,"pZ":53.6,"pC":51.7,"pA":38.8},{"t":452.5,"pZ":55.1,"pC":53.1,"pA":39.3},{"t":457.5,"pZ":52.9,"pC":51.1,"pA":40.5},{"t":462.5,"pZ":56.7,"pC":54.9,"pA":38.0},{"t":467.5,"pZ":54.2,"pC":51.9,"pA":43.2},{"t":472.5,"pZ":60.0,"pC":57.6,"pA":39.9},{"t":477.5,"pZ":54.6,"pC":52.8,"pA":37.4},
{"t":482.5,"pZ":53.8,"pC":51.4,"pA":42.5},{"t":487.5,"pZ":57.9,"pC":55.6,"pA":38.1},{"t":492.5,"pZ":54.8,"pC":52.8,"pA":37.9},{"t":497.5,"pZ":53.6,"pC":51.7,"pA":43.8},{"t":502.5,"pZ":55.1,"pC":53.6,"pA":40.3},{"t":507.5,"pZ":52.9,"pC":51.1,"pA":38.5},{"t":512.5,"pZ":56.7,"pC":54.5,"pA":42.6},{"t":517.5,"pZ":54.2,"pC":52.3,"pA":39.8},{"t":522.5,"pZ":60.0,"pC":57.6,"pA":36.9},{"t":527.5,"pZ":54.6,"pC":52.7,"pA":40.5},{"t":532.5,"pZ":53.3,"pC":51.3,"pA":38.3},{"t":537.5,"pZ":56.1,"pC":54.0,"pA":37.6},
{"t":542.5,"pZ":54.8,"pC":52.9,"pA":37.4},{"t":547.5,"pZ":53.6,"pC":51.5,"pA":39.9},{"t":552.5,"pZ":55.1,"pC":52.5,"pA":42.6},{"t":557.5,"pZ":52.9,"pC":50.8,"pA":38.1},{"t":562.5,"pZ":56.7,"pC":54.2,"pA":44.5},{"t":567.5,"pZ":54.2,"pC":52.8,"pA":38.5},{"t":572.5,"pZ":60.0,"pC":57.6,"pA":41.2},{"t":577.5,"pZ":54.6,"pC":52.4,"pA":37.5},{"t":582.5,"pZ":53.3,"pC":51.6,"pA":43.1},{"t":587.5,"pZ":56.1,"pC":53.8,"pA":39.3},{"t":592.5,"pZ":53.8,"pC":51.6,"pA":38.8},{"t":597.5,"pZ":57.9,"pC":55.7,"pA":40.3},
{"t":602.5,"pZ":53.4,"pC":51.0,"pA":41.2},{"t":607.5,"pZ":54.9,"pC":52.9,"pA":37.4},{"t":612.5,"pZ":52.7,"pC":50.8,"pA":43.1},{"t":617.5,"pZ":56.5,"pC":53.9,"pA":38.9},{"t":622.5,"pZ":54.0,"pC":52.1,"pA":38.5},{"t":627.5,"pZ":59.8,"pC":57.4,"pA":42.2},{"t":632.5,"pZ":54.4,"pC":52.7,"pA":37.9},{"t":637.5,"pZ":53.1,"pC":51.1,"pA":40.0},{"t":642.5,"pZ":55.9,"pC":53.6,"pA":44.5},{"t":647.5,"pZ":53.6,"pC":52.0,"pA":38.1},{"t":652.5,"pZ":57.7,"pC":55.2,"pA":39.5},{"t":657.5,"pZ":54.6,"pC":52.5,"pA":36.9},
{"t":662.5,"pZ":60.0,"pC":57.6,"pA":38.3},{"t":667.5,"pZ":57.6,"pC":55.1,"pA":44.5},{"t":672.5,"pZ":54.6,"pC":53.0,"pA":38.5},{"t":677.5,"pZ":53.3,"pC":51.3,"pA":40.9},{"t":682.5,"pZ":56.1,"pC":53.5,"pA":43.1},{"t":687.5,"pZ":53.8,"pC":51.6,"pA":39.3},{"t":692.5,"pZ":57.9,"pC":55.4,"pA":37.4},{"t":697.5,"pZ":54.8,"pC":52.9,"pA":42.2},{"t":702.5,"pZ":53.6,"pC":51.8,"pA":39.9},{"t":707.5,"pZ":55.1,"pC":52.8,"pA":38.2},{"t":712.5,"pZ":52.9,"pC":51.4,"pA":40.0},{"t":717.5,"pZ":56.7,"pC":54.1,"pA":38.6},
{"t":722.5,"pZ":58.5,"pC":56.4,"pA":39.5},{"t":727.5,"pZ":55.1,"pC":53.2,"pA":42.2},{"t":732.5,"pZ":59.8,"pC":57.5,"pA":38.4},{"t":737.5,"pZ":54.9,"pC":52.6,"pA":44.1},{"t":742.5,"pZ":56.5,"pC":54.4,"pA":40.3},{"t":747.5,"pZ":56.5,"pC":54.0,"pA":41.5},{"t":752.5,"pZ":60.0,"pC":58.0,"pA":38.9},{"t":757.5,"pZ":56.6,"pC":54.3,"pA":43.2},{"t":762.5,"pZ":55.3,"pC":53.5,"pA":39.8},{"t":767.5,"pZ":58.1,"pC":56.0,"pA":40.9},{"t":772.5,"pZ":55.8,"pC":53.3,"pA":45.5},{"t":777.5,"pZ":59.9,"pC":57.6,"pA":39.1},
{"t":782.5,"pZ":58.6,"pC":56.1,"pA":41.0},{"t":787.5,"pZ":56.1,"pC":53.7,"pA":39.3},{"t":792.5,"pZ":57.6,"pC":55.8,"pA":44.7},{"t":797.5,"pZ":55.4,"pC":53.8,"pA":38.4},{"t":802.5,"pZ":59.2,"pC":57.1,"pA":40.5},{"t":807.5,"pZ":56.7,"pC":54.9,"pA":40.9},{"t":812.5,"pZ":62.5,"pC":60.1,"pA":38.0},{"t":817.5,"pZ":57.1,"pC":55.0,"pA":43.6},{"t":822.5,"pZ":55.8,"pC":53.4,"pA":39.8},{"t":827.5,"pZ":58.6,"pC":56.5,"pA":38.9},{"t":832.5,"pZ":56.3,"pC":54.2,"pA":42.7},{"t":837.5,"pZ":60.4,"pC":58.0,"pA":41.3},
{"t":842.5,"pZ":57.3,"pC":55.3,"pA":37.4},{"t":847.5,"pZ":56.1,"pC":53.6,"pA":45.5},{"t":852.5,"pZ":57.6,"pC":55.4,"pA":39.3},{"t":857.5,"pZ":55.4,"pC":53.4,"pA":40.5},{"t":862.5,"pZ":59.2,"pC":56.8,"pA":38.1},{"t":867.5,"pZ":56.7,"pC":54.4,"pA":42.2},{"t":872.5,"pZ":62.5,"pC":60.5,"pA":38.5},{"t":877.5,"pZ":57.1,"pC":54.9,"pA":40.2},{"t":882.5,"pZ":55.8,"pC":53.8,"pA":37.9},{"t":887.5,"pZ":58.6,"pC":56.3,"pA":44.5},{"t":892.5,"pZ":56.3,"pC":54.4,"pA":39.8},{"t":897.5,"pZ":60.4,"pC":58.1,"pA":38.7},
{"t":902.5,"pZ":57.3,"pC":55.4,"pA":40.1},{"t":907.5,"pZ":58.6,"pC":56.5,"pA":38.2},{"t":912.5,"pZ":56.1,"pC":53.6,"pA":42.9},{"t":917.5,"pZ":57.6,"pC":55.3,"pA":39.9},{"t":922.5,"pZ":55.4,"pC":53.5,"pA":37.4},{"t":927.5,"pZ":59.2,"pC":57.0,"pA":42.0},{"t":932.5,"pZ":56.7,"pC":54.4,"pA":38.8},{"t":937.5,"pZ":62.5,"pC":60.2,"pA":39.5},{"t":942.5,"pZ":57.1,"pC":54.9,"pA":43.2},{"t":947.5,"pZ":55.8,"pC":53.9,"pA":38.0},{"t":952.5,"pZ":58.6,"pC":56.0,"pA":40.3},{"t":957.5,"pZ":56.3,"pC":53.8,"pA":41.6},
{"t":962.5,"pZ":56.3,"pC":54.1,"pA":38.5},{"t":967.5,"pZ":59.6,"pC":57.5,"pA":41.1},{"t":972.5,"pZ":55.8,"pC":53.4,"pA":42.3},{"t":977.5,"pZ":58.1,"pC":56.0,"pA":37.9},{"t":982.5,"pZ":57.5,"pC":55.2,"pA":43.5},{"t":987.5,"pZ":56.6,"pC":54.5,"pA":38.4},{"t":992.5,"pZ":56.1,"pC":53.5,"pA":37.4},{"t":997.5,"pZ":54.8,"pC":53.1,"pA":40.9},{"t":1002.5,"pZ":57.6,"pC":55.2,"pA":38.8},{"t":1007.5,"pZ":55.3,"pC":53.3,"pA":42.1},{"t":1012.5,"pZ":59.4,"pC":57.1,"pA":37.1},{"t":1017.5,"pZ":56.3,"pC":54.2,"pA":40.2},
{"t":1022.5,"pZ":54.8,"pC":52.7,"pA":41.2},{"t":1027.5,"pZ":57.6,"pC":55.3,"pA":36.5},{"t":1032.5,"pZ":55.3,"pC":52.9,"pA":38.1},{"t":1037.5,"pZ":59.4,"pC":57.3,"pA":35.4},{"t":1042.5,"pZ":56.3,"pC":54.2,"pA":40.8},{"t":1047.5,"pZ":55.1,"pC":52.7,"pA":37.1},{"t":1052.5,"pZ":53.6,"pC":51.8,"pA":36.5},{"t":1057.5,"pZ":55.1,"pC":53.1,"pA":42.5},{"t":1062.5,"pZ":52.9,"pC":51.3,"pA":35.9},{"t":1067.5,"pZ":56.7,"pC":54.6,"pA":37.3},{"t":1072.5,"pZ":54.2,"pC":51.8,"pA":39.2},{"t":1077.5,"pZ":60.0,"pC":57.7,"pA":36.1},
{"t":1082.5,"pZ":55.8,"pC":53.4,"pA":38.5},{"t":1087.5,"pZ":53.5,"pC":51.4,"pA":37.3},{"t":1092.5,"pZ":57.6,"pC":55.5,"pA":40.2},{"t":1097.5,"pZ":54.5,"pC":52.1,"pA":35.5},{"t":1102.5,"pZ":53.3,"pC":51.5,"pA":42.1},{"t":1107.5,"pZ":54.8,"pC":52.9,"pA":36.1},{"t":1112.5,"pZ":52.6,"pC":50.8,"pA":39.0},{"t":1117.5,"pZ":56.4,"pC":53.8,"pA":42.5},{"t":1122.5,"pZ":53.9,"pC":51.8,"pA":38.4},{"t":1127.5,"pZ":59.7,"pC":57.6,"pA":36.0},{"t":1132.5,"pZ":54.3,"pC":51.9,"pA":37.4},{"t":1137.5,"pZ":53.0,"pC":51.4,"pA":40.6},
{"t":1142.5,"pZ":59.4,"pC":57.0,"pA":37.9},{"t":1147.5,"pZ":56.1,"pC":54.5,"pA":42.2},{"t":1152.5,"pZ":54.8,"pC":52.8,"pA":36.9},{"t":1157.5,"pZ":57.6,"pC":55.5,"pA":39.3},{"t":1162.5,"pZ":55.3,"pC":53.4,"pA":35.4},{"t":1167.5,"pZ":59.4,"pC":57.2,"pA":41.1},{"t":1172.5,"pZ":56.3,"pC":54.2,"pA":37.5},{"t":1177.5,"pZ":55.1,"pC":52.5,"pA":37.8},{"t":1182.5,"pZ":56.6,"pC":54.8,"pA":40.9},{"t":1187.5,"pZ":54.4,"pC":52.0,"pA":36.1},{"t":1192.5,"pZ":58.2,"pC":55.8,"pA":42.5},{"t":1197.5,"pZ":55.7,"pC":53.4,"pA":35.9},
{"t":1202.5,"pZ":59.4,"pC":57.0,"pA":37.0},{"t":1207.5,"pZ":54.4,"pC":52.1,"pA":34.9},{"t":1212.5,"pZ":55.9,"pC":54.0,"pA":42.0},{"t":1217.5,"pZ":53.7,"pC":51.5,"pA":36.8},{"t":1222.5,"pZ":57.5,"pC":55.4,"pA":40.0},{"t":1227.5,"pZ":55.0,"pC":53.0,"pA":38.3},{"t":1232.5,"pZ":60.8,"pC":58.3,"pA":35.4},{"t":1237.5,"pZ":55.4,"pC":53.8,"pA":39.7},{"t":1242.5,"pZ":54.1,"pC":51.7,"pA":37.8},{"t":1247.5,"pZ":56.9,"pC":54.5,"pA":42.6},{"t":1252.5,"pZ":54.6,"pC":52.2,"pA":36.0},{"t":1257.5,"pZ":58.7,"pC":56.6,"pA":39.1},
{"t":1262.5,"pZ":61.4,"pC":58.9,"pA":38.5},{"t":1267.5,"pZ":58.3,"pC":56.1,"pA":42.1},{"t":1272.5,"pZ":63.5,"pC":61.0,"pA":38.8},{"t":1277.5,"pZ":58.1,"pC":56.4,"pA":40.5},{"t":1282.5,"pZ":56.8,"pC":54.8,"pA":44.9},{"t":1287.5,"pZ":59.6,"pC":57.3,"pA":38.1},{"t":1292.5,"pZ":57.3,"pC":55.1,"pA":37.9},{"t":1297.5,"pZ":61.4,"pC":58.9,"pA":42.2},{"t":1302.5,"pZ":58.3,"pC":56.4,"pA":39.8},{"t":1307.5,"pZ":57.1,"pC":54.5,"pA":41.1},{"t":1312.5,"pZ":58.6,"pC":56.6,"pA":37.4},{"t":1317.5,"pZ":56.4,"pC":54.2,"pA":43.5},
{"t":1322.5,"pZ":58.1,"pC":56.2,"pA":40.8},{"t":1327.5,"pZ":56.8,"pC":54.7,"pA":38.0},{"t":1332.5,"pZ":59.6,"pC":57.2,"pA":43.6},{"t":1337.5,"pZ":57.3,"pC":55.4,"pA":38.9},{"t":1342.5,"pZ":61.4,"pC":58.8,"pA":40.4},{"t":1347.5,"pZ":58.3,"pC":56.0,"pA":45.0},{"t":1352.5,"pZ":57.1,"pC":54.7,"pA":39.0},{"t":1357.5,"pZ":58.6,"pC":56.7,"pA":40.3},{"t":1362.5,"pZ":56.4,"pC":54.4,"pA":38.5},{"t":1367.5,"pZ":60.2,"pC":58.1,"pA":43.2},{"t":1372.5,"pZ":57.7,"pC":55.2,"pA":39.9},{"t":1377.5,"pZ":63.5,"pC":61.0,"pA":37.9},
{"t":1382.5,"pZ":58.0,"pC":55.8,"pA":43.2},{"t":1387.5,"pZ":60.1,"pC":57.6,"pA":38.4},{"t":1392.5,"pZ":57.8,"pC":55.5,"pA":39.5},{"t":1397.5,"pZ":62.0,"pC":59.7,"pA":42.2},{"t":1402.5,"pZ":58.8,"pC":56.4,"pA":40.3},{"t":1407.5,"pZ":57.6,"pC":55.7,"pA":44.1},{"t":1412.5,"pZ":59.1,"pC":56.5,"pA":38.9},{"t":1417.5,"pZ":56.9,"pC":54.8,"pA":41.5},{"t":1422.5,"pZ":60.7,"pC":58.4,"pA":46.0},{"t":1427.5,"pZ":58.2,"pC":55.8,"pA":39.6},{"t":1432.5,"pZ":64.0,"pC":61.8,"pA":40.8},{"t":1437.5,"pZ":58.6,"pC":56.2,"pA":45.5}
],
"bot":[
{"t":0,"z":51.3,"c":49.5,"a":34.5},{"t":10,"z":51.6,"c":49.7,"a":33.0},{"t":20,"z":51.5,"c":49.6,"a":33.5},{"t":30,"z":52.0,"c":49.9,"a":35.5},{"t":40,"z":51.8,"c":49.8,"a":35.0},{"t":50,"z":52.5,"c":50.2,"a":35.8},{"t":60,"z":52.0,"c":50.0,"a":35.0},{"t":70,"z":51.6,"c":49.6,"a":34.0},{"t":80,"z":52.0,"c":49.8,"a":35.2},{"t":90,"z":51.5,"c":49.5,"a":35.0},{"t":100,"z":51.8,"c":49.7,"a":34.5},{"t":110,"z":52.0,"c":49.8,"a":34.0},
{"t":120,"z":51.5,"c":49.5,"a":34.0},{"t":130,"z":52.2,"c":49.9,"a":35.5},{"t":140,"z":51.6,"c":49.6,"a":35.5},{"t":150,"z":51.8,"c":49.7,"a":34.8},{"t":160,"z":51.5,"c":49.5,"a":34.0},{"t":170,"z":52.0,"c":49.8,"a":34.5},{"t":180,"z":51.8,"c":49.7,"a":35.5},{"t":190,"z":51.4,"c":49.4,"a":32.0},{"t":200,"z":52.6,"c":50.3,"a":34.8},{"t":210,"z":52.3,"c":50.1,"a":34.0},{"t":220,"z":51.5,"c":49.5,"a":32.5},{"t":230,"z":51.6,"c":49.5,"a":31.5},
{"t":240,"z":51.4,"c":49.4,"a":31.5},{"t":250,"z":51.8,"c":49.6,"a":31.8},{"t":260,"z":51.6,"c":49.5,"a":32.0},{"t":270,"z":52.5,"c":50.0,"a":36.0},{"t":280,"z":51.8,"c":49.6,"a":34.5},{"t":290,"z":52.0,"c":49.8,"a":35.5},{"t":296,"z":54.4,"c":52.5,"a":41.1},{"t":301,"z":51.6,"c":49.6,"a":35.0},{"t":307,"z":54.4,"c":52.5,"a":41.2},{"t":312,"z":51.7,"c":49.6,"a":35.5},{"t":320,"z":51.6,"c":49.5,"a":35.0},{"t":330,"z":51.5,"c":49.5,"a":34.5},
{"t":340,"z":53.0,"c":51.5,"a":35.5},{"t":350,"z":53.8,"c":52.0,"a":36.0},{"t":360,"z":53.2,"c":51.8,"a":35.5},{"t":370,"z":53.3,"c":51.7,"a":35.5},{"t":380,"z":52.6,"c":50.8,"a":36.5},{"t":390,"z":52.5,"c":50.6,"a":35.0},{"t":400,"z":51.8,"c":49.8,"a":35.0},{"t":410,"z":51.6,"c":49.6,"a":34.5},{"t":420,"z":52.0,"c":49.9,"a":33.5},{"t":430,"z":52.2,"c":50.0,"a":33.8},{"t":440,"z":51.8,"c":49.7,"a":34.5},{"t":450,"z":51.8,"c":49.7,"a":36.0},
{"t":460,"z":52.0,"c":49.8,"a":38.0},{"t":470,"z":51.7,"c":49.6,"a":35.5},{"t":480,"z":52.5,"c":50.2,"a":35.5},{"t":490,"z":51.6,"c":49.5,"a":35.0},{"t":500,"z":52.0,"c":49.8,"a":39.3},{"t":510,"z":51.9,"c":49.7,"a":38.5},{"t":520,"z":51.5,"c":49.4,"a":33.0},{"t":530,"z":51.4,"c":49.3,"a":32.3},{"t":540,"z":51.4,"c":49.3,"a":34.5},{"t":550,"z":52.3,"c":49.8,"a":35.5},{"t":560,"z":51.6,"c":49.4,"a":35.8},{"t":570,"z":51.6,"c":49.4,"a":35.6},
{"t":580,"z":52.4,"c":49.9,"a":37.0},{"t":590,"z":52.2,"c":49.8,"a":33.5},{"t":600,"z":51.9,"c":49.6,"a":37.0},{"t":610,"z":52.0,"c":49.7,"a":36.0},{"t":620,"z":51.4,"c":49.2,"a":34.8},{"t":630,"z":51.3,"c":49.1,"a":33.8},{"t":640,"z":51.5,"c":49.1,"a":34.8},{"t":650,"z":52.2,"c":49.5,"a":36.5},{"t":660,"z":56.0,"c":53.0,"a":37.5},{"t":667,"z":58.7,"c":54.4,"a":38.5},{"t":675,"z":51.2,"c":48.9,"a":34.0},{"t":681,"z":56.7,"c":54.0,"a":40.0},
{"t":688,"z":52.0,"c":49.2,"a":35.0},{"t":700,"z":51.2,"c":48.9,"a":35.5},{"t":710,"z":51.8,"c":49.2,"a":36.0},{"t":720,"z":52.5,"c":49.5,"a":35.5},{"t":730,"z":54.5,"c":51.2,"a":38.0},{"t":740,"z":54.5,"c":51.5,"a":37.5},{"t":750,"z":53.5,"c":52.2,"a":35.0},{"t":760,"z":54.0,"c":52.4,"a":35.5},{"t":770,"z":54.3,"c":52.6,"a":36.0},{"t":780,"z":54.2,"c":52.5,"a":35.0},{"t":790,"z":54.4,"c":52.6,"a":36.0},{"t":800,"z":54.2,"c":52.5,"a":35.5},
{"t":810,"z":54.6,"c":52.7,"a":35.8},{"t":820,"z":54.3,"c":52.5,"a":35.5},{"t":830,"z":54.2,"c":52.5,"a":35.5},{"t":840,"z":54.3,"c":52.5,"a":35.2},{"t":850,"z":54.5,"c":52.6,"a":35.3},{"t":860,"z":54.4,"c":52.6,"a":35.0},{"t":870,"z":54.5,"c":52.6,"a":35.8},{"t":880,"z":54.5,"c":52.6,"a":34.0},{"t":890,"z":54.3,"c":52.5,"a":35.5},{"t":900,"z":54.1,"c":52.4,"a":34.5},{"t":910,"z":54.6,"c":52.7,"a":35.5},{"t":920,"z":54.4,"c":52.6,"a":34.0},
{"t":930,"z":54.0,"c":52.3,"a":35.5},{"t":940,"z":53.9,"c":52.2,"a":35.4},{"t":950,"z":54.2,"c":52.3,"a":35.8},{"t":960,"z":53.6,"c":51.5,"a":36.0},{"t":970,"z":53.5,"c":51.2,"a":36.0},{"t":980,"z":57.7,"c":53.6,"a":39.0},{"t":990,"z":52.5,"c":50.0,"a":33.0},{"t":1000,"z":52.8,"c":50.3,"a":33.5},{"t":1010,"z":54.5,"c":51.2,"a":35.0},{"t":1020,"z":53.5,"c":50.3,"a":38.0},{"t":1030,"z":52.3,"c":49.8,"a":35.0},{"t":1040,"z":51.5,"c":49.4,"a":31.5},
{"t":1050,"z":51.8,"c":49.5,"a":34.0},{"t":1060,"z":51.6,"c":49.3,"a":33.0},{"t":1070,"z":51.3,"c":49.2,"a":31.5},{"t":1080,"z":51.3,"c":49.2,"a":31.8},{"t":1090,"z":51.2,"c":49.1,"a":31.5},{"t":1100,"z":51.2,"c":49.0,"a":32.5},{"t":1110,"z":51.3,"c":49.1,"a":31.6},{"t":1116,"z":55.7,"c":52.5,"a":38.5},{"t":1125,"z":52.5,"c":50.0,"a":34.5},{"t":1135,"z":53.0,"c":50.3,"a":32.8},{"t":1145,"z":52.8,"c":50.2,"a":31.5},{"t":1155,"z":53.5,"c":50.6,"a":39.5},
{"t":1165,"z":53.2,"c":50.4,"a":32.5},{"t":1175,"z":53.4,"c":50.5,"a":31.8},{"t":1185,"z":53.0,"c":50.3,"a":33.5},{"t":1195,"z":53.3,"c":50.4,"a":33.0},{"t":1205,"z":52.8,"c":50.1,"a":32.0},{"t":1215,"z":52.5,"c":50.0,"a":32.5},{"t":1225,"z":52.4,"c":49.9,"a":31.8},{"t":1235,"z":52.8,"c":50.1,"a":32.5},{"t":1245,"z":52.4,"c":49.9,"a":32.0},{"t":1255,"z":52.6,"c":50.0,"a":32.8},{"t":1265,"z":54.0,"c":51.2,"a":36.0},{"t":1275,"z":53.5,"c":51.0,"a":35.0},
{"t":1285,"z":54.5,"c":51.5,"a":35.5},{"t":1295,"z":53.8,"c":51.0,"a":34.5},{"t":1305,"z":54.2,"c":51.3,"a":35.0},{"t":1315,"z":53.5,"c":50.8,"a":34.0},{"t":1325,"z":57.2,"c":53.8,"a":38.0},{"t":1335,"z":54.8,"c":52.0,"a":36.0},{"t":1345,"z":54.5,"c":51.5,"a":35.5},{"t":1355,"z":54.0,"c":51.2,"a":35.0},{"t":1365,"z":55.0,"c":52.0,"a":36.0},{"t":1375,"z":54.3,"c":51.4,"a":35.2},{"t":1385,"z":54.8,"c":51.8,"a":36.5},{"t":1395,"z":54.6,"c":51.6,"a":35.5},
{"t":1405,"z":55.2,"c":52.0,"a":37.0},{"t":1415,"z":54.0,"c":51.3,"a":35.0},{"t":1425,"z":54.8,"c":51.8,"a":36.0},{"t":1435,"z":54.3,"c":51.5,"a":35.0},{"t":1440,"z":53.3,"c":50.8,"a":34.5}
],
"env":[
{"t":0,"hi":58,"lo":50.0},{"t":5,"hi":54.0,"lo":50.0},{"t":10,"hi":66,"lo":50.2},{"t":15,"hi":54.5,"lo":50.1},{"t":20,"hi":60,"lo":50.1},{"t":25,"hi":53.8,"lo":50.1},{"t":30,"hi":72,"lo":50.3},{"t":35,"hi":54.2,"lo":50.2},{"t":40,"hi":56,"lo":50.2},{"t":45,"hi":55.0,"lo":50.3},{"t":50,"hi":70,"lo":50.5},{"t":55,"hi":54.6,"lo":50.3},
{"t":60,"hi":62,"lo":50.3},{"t":65,"hi":54.0,"lo":50.1},{"t":70,"hi":67,"lo":50.0},{"t":75,"hi":54.8,"lo":50.1},{"t":80,"hi":58,"lo":50.2},{"t":85,"hi":53.9,"lo":50.1},{"t":90,"hi":64,"lo":50.0},{"t":95,"hi":54.3,"lo":50.0},{"t":100,"hi":57,"lo":50.1},{"t":105,"hi":55.2,"lo":50.2},{"t":110,"hi":68,"lo":50.3},{"t":115,"hi":54.0,"lo":50.1},
{"t":120,"hi":60,"lo":50.0},{"t":125,"hi":56.0,"lo":50.3},{"t":130,"hi":71,"lo":50.4},{"t":135,"hi":54.3,"lo":50.1},{"t":140,"hi":59,"lo":50.0},{"t":145,"hi":55.0,"lo":50.1},{"t":150,"hi":65,"lo":50.1},{"t":155,"hi":54.2,"lo":50.0},{"t":160,"hi":57,"lo":50.0},{"t":165,"hi":54.0,"lo":50.1},{"t":170,"hi":69,"lo":50.2},{"t":175,"hi":55.5,"lo":50.2},
{"t":180,"hi":61,"lo":50.1},{"t":185,"hi":53.9,"lo":49.9},{"t":190,"hi":58,"lo":49.9},{"t":195,"hi":56.5,"lo":50.4},{"t":200,"hi":66,"lo":50.5},{"t":205,"hi":55.8,"lo":50.4},{"t":210,"hi":60,"lo":50.3},{"t":215,"hi":54.0,"lo":50.1},{"t":220,"hi":63,"lo":50.0},{"t":225,"hi":54.2,"lo":50.0},{"t":230,"hi":56,"lo":49.9},{"t":235,"hi":53.8,"lo":49.9},
{"t":240,"hi":60,"lo":49.9},{"t":245,"hi":53.9,"lo":49.9},{"t":250,"hi":58,"lo":50.0},{"t":255,"hi":54.0,"lo":50.0},{"t":260,"hi":64,"lo":50.0},{"t":265,"hi":54.5,"lo":50.1},{"t":270,"hi":70,"lo":50.3},{"t":275,"hi":56.0,"lo":50.2},{"t":280,"hi":62,"lo":50.0},{"t":285,"hi":54.2,"lo":50.0},{"t":290,"hi":64,"lo":50.0},{"t":295,"hi":79,"lo":50.5},
{"t":300,"hi":56,"lo":50.0},{"t":305,"hi":77,"lo":50.5},{"t":310,"hi":57,"lo":50.0},{"t":315,"hi":54.5,"lo":50.0},{"t":320,"hi":66,"lo":50.0},{"t":325,"hi":54.0,"lo":49.9},{"t":330,"hi":58,"lo":49.9},{"t":335,"hi":54.2,"lo":50.3},{"t":340,"hi":69,"lo":51.5},{"t":345,"hi":56.0,"lo":51.7},{"t":350,"hi":74,"lo":52.0},{"t":355,"hi":56.2,"lo":51.8},
{"t":360,"hi":62,"lo":51.8},{"t":365,"hi":55.8,"lo":51.8},{"t":370,"hi":65,"lo":51.8},{"t":375,"hi":55.5,"lo":51.4},{"t":380,"hi":60,"lo":51.0},{"t":385,"hi":55.0,"lo":50.9},{"t":390,"hi":66,"lo":50.8},{"t":395,"hi":54.8,"lo":50.4},{"t":400,"hi":58,"lo":50.1},{"t":405,"hi":54.1,"lo":50.0},{"t":410,"hi":62,"lo":50.0},{"t":415,"hi":54.0,"lo":50.0},
{"t":420,"hi":57,"lo":50.1},{"t":425,"hi":54.4,"lo":50.1},{"t":430,"hi":61,"lo":50.2},{"t":435,"hi":54.2,"lo":50.1},{"t":440,"hi":56,"lo":50.0},{"t":445,"hi":54.3,"lo":50.0},{"t":450,"hi":63,"lo":50.0},{"t":455,"hi":54.0,"lo":50.0},{"t":460,"hi":58,"lo":50.1},{"t":465,"hi":54.2,"lo":50.0},{"t":470,"hi":62,"lo":50.0},{"t":475,"hi":54.5,"lo":50.1},
{"t":480,"hi":66,"lo":50.3},{"t":485,"hi":54.0,"lo":50.0},{"t":490,"hi":57,"lo":49.9},{"t":495,"hi":54.8,"lo":50.0},{"t":500,"hi":61,"lo":50.0},{"t":505,"hi":54.4,"lo":50.0},{"t":510,"hi":57,"lo":50.0},{"t":515,"hi":54.2,"lo":49.9},{"t":520,"hi":59,"lo":49.8},{"t":525,"hi":53.8,"lo":49.7},{"t":530,"hi":56,"lo":49.7},{"t":535,"hi":53.7,"lo":49.7},
{"t":540,"hi":60,"lo":49.7},{"t":545,"hi":54.0,"lo":49.8},{"t":550,"hi":68,"lo":49.9},{"t":555,"hi":54.2,"lo":49.8},{"t":560,"hi":57,"lo":49.8},{"t":565,"hi":54.0,"lo":49.8},{"t":570,"hi":60,"lo":49.8},{"t":575,"hi":54.5,"lo":49.9},{"t":580,"hi":58,"lo":50.0},{"t":585,"hi":54.6,"lo":49.9},{"t":590,"hi":62,"lo":49.9},{"t":595,"hi":54.3,"lo":49.8},
{"t":600,"hi":57,"lo":49.8},{"t":605,"hi":54.2,"lo":49.8},{"t":610,"hi":59,"lo":49.8},{"t":615,"hi":53.8,"lo":49.6},{"t":620,"hi":56,"lo":49.5},{"t":625,"hi":53.6,"lo":49.4},{"t":630,"hi":58,"lo":49.4},{"t":635,"hi":53.7,"lo":49.4},{"t":640,"hi":61,"lo":49.4},{"t":645,"hi":54.4,"lo":49.5},{"t":650,"hi":59,"lo":49.6},{"t":655,"hi":57.0,"lo":50.5},
{"t":660,"hi":70,"lo":52.0},{"t":665,"hi":72,"lo":54.0},{"t":670,"hi":64,"lo":52.5},{"t":675,"hi":60,"lo":49.2},{"t":680,"hi":83,"lo":52.0},{"t":685,"hi":58,"lo":50.0},{"t":690,"hi":62,"lo":49.3},{"t":695,"hi":53.6,"lo":49.1},{"t":700,"hi":58,"lo":49.1},{"t":705,"hi":54.0,"lo":49.2},{"t":710,"hi":63,"lo":49.4},{"t":715,"hi":57.5,"lo":49.5},
{"t":720,"hi":66,"lo":49.6},{"t":725,"hi":58.0,"lo":50.2},{"t":730,"hi":71,"lo":51.0},{"t":735,"hi":60.0,"lo":51.3},{"t":740,"hi":68,"lo":51.5},{"t":745,"hi":60,"lo":52.0},{"t":750,"hi":62,"lo":52.3},{"t":755,"hi":56.5,"lo":52.4},{"t":760,"hi":66,"lo":52.5},{"t":765,"hi":58.5,"lo":52.5},{"t":770,"hi":61,"lo":52.6},{"t":775,"hi":57.0,"lo":52.5},
{"t":780,"hi":64,"lo":52.5},{"t":785,"hi":59.0,"lo":52.5},{"t":790,"hi":63,"lo":52.6},{"t":795,"hi":57.5,"lo":52.5},{"t":800,"hi":59,"lo":52.5},{"t":805,"hi":56.8,"lo":52.5},{"t":810,"hi":67,"lo":52.6},{"t":815,"hi":61.0,"lo":52.6},{"t":820,"hi":60,"lo":52.5},{"t":825,"hi":56.9,"lo":52.5},{"t":830,"hi":63,"lo":52.5},{"t":835,"hi":57.0,"lo":52.5},
{"t":840,"hi":58,"lo":52.5},{"t":845,"hi":56.8,"lo":52.5},{"t":850,"hi":61,"lo":52.6},{"t":855,"hi":57.0,"lo":52.6},{"t":860,"hi":59,"lo":52.6},{"t":865,"hi":57.2,"lo":52.6},{"t":870,"hi":66,"lo":52.6},{"t":875,"hi":62,"lo":52.6},{"t":880,"hi":62,"lo":52.6},{"t":885,"hi":56.9,"lo":52.5},{"t":890,"hi":60,"lo":52.5},{"t":895,"hi":56.6,"lo":52.4},
{"t":900,"hi":58,"lo":52.4},{"t":905,"hi":56.8,"lo":52.5},{"t":910,"hi":65,"lo":52.6},{"t":915,"hi":57.0,"lo":52.5},{"t":920,"hi":59,"lo":52.5},{"t":925,"hi":56.7,"lo":52.4},{"t":930,"hi":61,"lo":52.3},{"t":935,"hi":56.4,"lo":52.2},{"t":940,"hi":58,"lo":52.2},{"t":945,"hi":56.6,"lo":52.2},{"t":950,"hi":63,"lo":52.2},{"t":955,"hi":56.0,"lo":51.8},
{"t":960,"hi":60,"lo":51.4},{"t":965,"hi":55.8,"lo":51.3},{"t":970,"hi":62,"lo":51.2},{"t":975,"hi":59.5,"lo":52.5},{"t":980,"hi":64,"lo":53.5},{"t":985,"hi":58.0,"lo":51.5},{"t":990,"hi":66,"lo":50.0},{"t":995,"hi":55.0,"lo":50.1},{"t":1000,"hi":63,"lo":50.2},{"t":1005,"hi":58.0,"lo":50.6},{"t":1010,"hi":70,"lo":51.0},{"t":1015,"hi":60.0,"lo":50.5},
{"t":1020,"hi":72,"lo":50.0},{"t":1025,"hi":55.5,"lo":49.8},{"t":1030,"hi":60,"lo":49.7},{"t":1035,"hi":54.0,"lo":49.5},{"t":1040,"hi":57,"lo":49.4},{"t":1045,"hi":54.2,"lo":49.4},{"t":1050,"hi":66,"lo":49.5},{"t":1055,"hi":58.0,"lo":49.5},{"t":1060,"hi":58,"lo":49.3},{"t":1065,"hi":53.8,"lo":49.2},{"t":1070,"hi":56,"lo":49.2},{"t":1075,"hi":54.5,"lo":49.2},
{"t":1080,"hi":59,"lo":49.2},{"t":1085,"hi":53.6,"lo":49.1},{"t":1090,"hi":55,"lo":49.1},{"t":1095,"hi":53.7,"lo":49.1},{"t":1100,"hi":57,"lo":49.0},{"t":1105,"hi":53.5,"lo":49.0},{"t":1110,"hi":56,"lo":49.1},{"t":1115,"hi":68,"lo":51.5},{"t":1120,"hi":58.0,"lo":50.5},{"t":1125,"hi":60,"lo":50.0},{"t":1130,"hi":62.0,"lo":50.2},{"t":1135,"hi":72,"lo":50.1},
{"t":1140,"hi":56.0,"lo":50.0},{"t":1145,"hi":60,"lo":50.0},{"t":1150,"hi":62.0,"lo":50.3},{"t":1155,"hi":66,"lo":50.3},{"t":1160,"hi":56.5,"lo":50.2},{"t":1165,"hi":63,"lo":50.2},{"t":1170,"hi":58.0,"lo":50.3},{"t":1175,"hi":68,"lo":50.3},{"t":1180,"hi":56.0,"lo":50.2},{"t":1185,"hi":61,"lo":50.1},{"t":1190,"hi":60.0,"lo":50.2},{"t":1195,"hi":67,"lo":50.2},
{"t":1200,"hi":56.0,"lo":50.1},{"t":1205,"hi":58,"lo":50.0},{"t":1210,"hi":55.5,"lo":50.0},{"t":1215,"hi":62,"lo":49.9},{"t":1220,"hi":55.2,"lo":49.9},{"t":1225,"hi":57,"lo":49.9},{"t":1230,"hi":55.5,"lo":50.0},{"t":1235,"hi":64,"lo":50.0},{"t":1240,"hi":55.8,"lo":49.9},{"t":1245,"hi":70,"lo":49.9},{"t":1250,"hi":56.0,"lo":50.0},{"t":1255,"hi":63,"lo":50.0},
{"t":1260,"hi":60.0,"lo":50.3},{"t":1265,"hi":74,"lo":50.5},{"t":1270,"hi":59.0,"lo":50.5},{"t":1275,"hi":66,"lo":50.5},{"t":1280,"hi":60.5,"lo":50.6},{"t":1285,"hi":73,"lo":50.8},{"t":1290,"hi":59.0,"lo":50.6},{"t":1295,"hi":68,"lo":50.5},{"t":1300,"hi":60.0,"lo":50.6},{"t":1305,"hi":72,"lo":50.6},{"t":1310,"hi":58.5,"lo":50.4},{"t":1315,"hi":64,"lo":50.3},
{"t":1320,"hi":57.0,"lo":50.3},{"t":1325,"hi":78,"lo":51.0},{"t":1330,"hi":62.0,"lo":50.8},{"t":1335,"hi":71,"lo":50.6},{"t":1340,"hi":60.0,"lo":50.5},{"t":1345,"hi":73,"lo":50.5},{"t":1350,"hi":59.0,"lo":50.4},{"t":1355,"hi":68,"lo":50.4},{"t":1360,"hi":61.0,"lo":50.5},{"t":1365,"hi":76,"lo":50.6},{"t":1370,"hi":59.5,"lo":50.5},{"t":1375,"hi":70,"lo":50.4},
{"t":1380,"hi":60.0,"lo":50.5},{"t":1385,"hi":75,"lo":50.6},{"t":1390,"hi":61.0,"lo":50.5},{"t":1395,"hi":72,"lo":50.5},{"t":1400,"hi":59.0,"lo":50.6},{"t":1405,"hi":77,"lo":50.7},{"t":1410,"hi":60.5,"lo":50.5},{"t":1415,"hi":69,"lo":50.4},{"t":1420,"hi":61.0,"lo":50.5},{"t":1425,"hi":72,"lo":50.6},{"t":1430,"hi":59.5,"lo":50.5},{"t":1435,"hi":70,"lo":50.5},
{"t":1440,"hi":66,"lo":50.3}
]},
"vconcat":[
{
"width":2284,"height":504,
"title":{"text":"average and peak noise level (1 min sampling)","anchor":"start","frame":"group","fontSize":11.5,"offset":7},
"resolve":{"axis":{"x":"independent","y":"independent"}},
"layer":[
{"data":{"name":"top"},
"mark":{"type":"point","filled":true,"size":14,"opacity":0.85},
"transform":[{"fold":["pZ","pC","pA"],"as":["k","v"]}],
"encoding":{
"x":{"field":"t","type":"quantitative","scale":{"domain":[0,1440],"nice":false,"zero":false},
"axis":{"orient":"bottom","values":[30,60,90,150,180,210,270,300,330,390,420,450,510,540,570,630,660,690,750,780,810,870,900,930,990,1020,1050,1110,1140,1170,1230,1260,1290,1350,1380,1410],"labels":false,"title":null,"grid":true,"gridColor":"#c8c0b0","gridDash":[1,2],"gridWidth":0.8,"tickSize":5}},
"y":{"field":"v","type":"quantitative","scale":{"domain":[24,108],"nice":false,"zero":false},
"axis":{"orient":"left","values":[27,30,33,39,42,45,51,54,57,63,66,69,75,78,81,87,90,93,99,102,105],"labels":false,"title":null,"grid":true,"gridColor":"#bdb6a8","gridDash":[3,2],"gridWidth":0.8,"tickSize":3.5}},
"color":{"field":"k","type":"nominal",
"scale":{"domain":["pZ","pC","pA"],"range":["#1e90ff","#ff00ff","#2e8b57"]},
"legend":{"title":null,"orient":"none","legendX":2102,"legendY":459,"rowPadding":1.5,"padding":4,"labelFont":"DejaVu Sans","labelFontSize":10,"labelOffset":12,"symbolSize":30,"symbolType":"circle","symbolOpacity":1,"fillColor":"#fcf3da","strokeColor":"#dcc397","cornerRadius":3,
"labelExpr":"datum.value=='pZ' ? 'peak dB(Z)' : datum.value=='pC' ? 'peak dB(C)' : 'peak dB(A)'"}}}},
{"data":{"name":"pk"},
"mark":{"type":"point","filled":true,"size":14,"opacity":0.85},
"transform":[{"fold":["pZ","pC","pA"],"as":["k","v"]}],
"encoding":{
"x":{"field":"t","type":"quantitative","scale":{"domain":[0,1440],"nice":false,"zero":false},"axis":null},
"y":{"field":"v","type":"quantitative","scale":{"domain":[24,108],"nice":false,"zero":false},"axis":null},
"color":{"field":"k","type":"nominal","scale":{"domain":["pZ","pC","pA"],"range":["#1e90ff","#ff00ff","#2e8b57"]}}}},
{"data":{"name":"top"},
"mark":{"type":"line","strokeWidth":1.4},
"transform":[{"fold":["aA","aC","aZ"],"as":["k","v"]}],
"encoding":{
"x":{"field":"t","type":"quantitative","scale":{"domain":[0,1440],"nice":false,"zero":false},
"axis":{"orient":"bottom","values":[0,120,240,360,480,600,720,840,960,1080,1200,1320],"labelExpr":"(datum.value < 600 ? '0' : '') + floor(datum.value/60) + ':00'","title":"time","grid":true,"gridColor":"#b0b0b0","gridWidth":1.5,"tickSize":5,"labelPadding":4,"titlePadding":6}},
"y":{"field":"v","type":"quantitative","scale":{"domain":[24,108],"nice":false,"zero":false},
"axis":{"orient":"left","values":[24,36,48,60,72,84,96,108],"title":"dB SPL","grid":true,"gridColor":"#b0b0b0","gridWidth":1.5,"tickSize":5,"labelPadding":3,"titlePadding":10}},
"stroke":{"field":"k","type":"nominal","scale":{"domain":["aZ","aC","aA"],"range":["#4682b4","#da70d6","#9acd32"]},
"legend":{"title":null,"orient":"none","legendX":2190,"legendY":459,"rowPadding":1.5,"padding":4,"labelFont":"DejaVu Sans","labelFontSize":10,"symbolOffset":14,"labelOffset":27,"symbolSize":30,"symbolType":"stroke","symbolStrokeWidth":3.5,"fillColor":"#fcf3da","strokeColor":"#dcc397","cornerRadius":3,
"labelExpr":"datum.value=='aZ' ? 'avg dB(Z)' : datum.value=='aC' ? 'avg dB(C)' : 'avg dB(A)'",
"encode":{"symbols":{"update":{"shape":{"value":"M-4,0H4"},"size":{"value":30.25},"strokeWidth":{"value":3.5},"opacity":{"value":1}}}}}}}},
{"data":{"name":"top"},
"mark":{"type":"point","opacity":0},
"encoding":{
"x":{"field":"t","type":"quantitative","scale":{"domain":[0,1440],"nice":false,"zero":false},"axis":null},
"y":{"field":"aZ","type":"quantitative","scale":{"domain":[24,108],"nice":false,"zero":false},
"axis":{"orient":"right","values":[24,36,48,60,72,84,96,108],"title":"dB SPL","titleAngle":270,"grid":false,"tickSize":5,"labelPadding":3,"titlePadding":10}}}},
{"data":{"name":"top"},
"mark":{"type":"point","opacity":0},
"encoding":{
"x":{"field":"t","type":"quantitative","scale":{"domain":[0,1440],"nice":false,"zero":false},"axis":null},
"y":{"field":"aC","type":"quantitative","scale":{"domain":[24,108],"nice":false,"zero":false},
"axis":{"orient":"right","values":[27,30,33,39,42,45,51,54,57,63,66,69,75,78,81,87,90,93,99,102,105],"labels":false,"title":null,"grid":false,"tickSize":3.5}}}}
]},
{
"width":2284,"height":504,
"title":{"text":"average noise level (5 min with 15s min/max dB envelope)","anchor":"start","frame":"group","fontSize":11.5,"offset":7},
"resolve":{"axis":{"x":"independent","y":"independent"}},
"layer":[
{"data":{"name":"env"},
"mark":{"type":"area","color":"#ee9a80","opacity":0.4},
"encoding":{
"x":{"field":"t","type":"quantitative","scale":{"domain":[0,1440],"nice":false,"zero":false},
"axis":{"orient":"bottom","values":[0,120,240,360,480,600,720,840,960,1080,1200,1320],"labelExpr":"(datum.value < 600 ? '0' : '') + floor(datum.value/60) + ':00:00'","title":"time","grid":true,"gridColor":"#b0b0b0","gridWidth":1.5,"tickSize":5,"labelPadding":4,"titlePadding":6}},
"y":{"field":"lo","type":"quantitative","scale":{"domain":[24,108],"nice":false,"zero":false},
"axis":{"orient":"left","values":[24,36,48,60,72,84,96,108],"title":"dB SPL","grid":true,"gridColor":"#b0b0b0","gridWidth":1.5,"tickSize":5,"labelPadding":3,"titlePadding":10}},
"y2":{"field":"hi"}}},
{"data":{"name":"bot"},
"mark":{"type":"line","strokeWidth":1.5},
"transform":[{"fold":["a","c","z"],"as":["k","v"]}],
"encoding":{
"x":{"field":"t","type":"quantitative","scale":{"domain":[0,1440],"nice":false,"zero":false},
"axis":{"orient":"bottom","values":[30,60,90,150,180,210,270,300,330,390,420,450,510,540,570,630,660,690,750,780,810,870,900,930,990,1020,1050,1110,1140,1170,1230,1260,1290,1350,1380,1410],"labels":false,"title":null,"grid":true,"gridColor":"#c8c0b0","gridDash":[1,2],"gridWidth":0.8,"tickSize":5}},
"y":{"field":"v","type":"quantitative","scale":{"domain":[24,108],"nice":false,"zero":false},
"axis":{"orient":"left","values":[27,30,33,39,42,45,51,54,57,63,66,69,75,78,81,87,90,93,99,102,105],"labels":false,"title":null,"grid":true,"gridColor":"#bdb6a8","gridDash":[3,2],"gridWidth":0.8,"tickSize":3.5}},
"color":{"field":"k","type":"nominal",
"scale":{"domain":["z","c","a"],"range":["#dc143c","#ff8c00","#ffd700"]},
"legend":{"title":null,"orient":"bottom-right","offset":4,"padding":3,"rowPadding":1.5,"labelFont":"DejaVu Sans","labelFontSize":10,"symbolOffset":4.5,"labelOffset":18,"symbolSize":30,"symbolType":"stroke","symbolStrokeWidth":3.5,"fillColor":"#fcf3da","strokeColor":"#dcc397","cornerRadius":3,
"labelExpr":"datum.value=='z' ? 'dB(Z)' : datum.value=='c' ? 'dB(C)' : 'dB(A)'",
"encode":{"symbols":{"update":{"shape":{"value":"M-4,0H4"},"size":{"value":30.25},"strokeWidth":{"value":3.5},"opacity":{"value":1}}}}}}}},
{"data":{"name":"bot"},
"mark":{"type":"point","opacity":0},
"encoding":{
"x":{"field":"t","type":"quantitative","scale":{"domain":[0,1440],"nice":false,"zero":false},"axis":null},
"y":{"field":"z","type":"quantitative","scale":{"domain":[24,108],"nice":false,"zero":false},
"axis":{"orient":"right","values":[24,36,48,60,72,84,96,108],"title":"dB SPL","titleAngle":270,"grid":false,"tickSize":5,"labelPadding":3,"titlePadding":10}}}},
{"data":{"name":"bot"},
"mark":{"type":"point","opacity":0},
"encoding":{
"x":{"field":"t","type":"quantitative","scale":{"domain":[0,1440],"nice":false,"zero":false},"axis":null},
"y":{"field":"c","type":"quantitative","scale":{"domain":[24,108],"nice":false,"zero":false},
"axis":{"orient":"right","values":[27,30,33,39,42,45,51,54,57,63,66,69,75,78,81,87,90,93,99,102,105],"labels":false,"title":null,"grid":false,"tickSize":3.5}}}}
]}
],
"spacing":0,
"resolve":{"scale":{"color":"independent"},"legend":{"color":"independent"}},
"config":{
"view":{"fill":"#fff8dc","stroke":"black","strokeWidth":1.5},
"axis":{"labelFont":"Liberation Sans Narrow, DejaVu Sans Condensed, DejaVu Sans","labelFontSize":9.4,"labelColor":"#222222","titleFont":"DejaVu Sans","titleFontSize":12,"titleFontWeight":"normal","titleColor":"black","tickColor":"black","tickWidth":1,"domain":false,"labelOverlap":false,"labelFlush":false},
"title":{"font":"DejaVu Sans","fontWeight":"bold","color":"black"}
}
}
